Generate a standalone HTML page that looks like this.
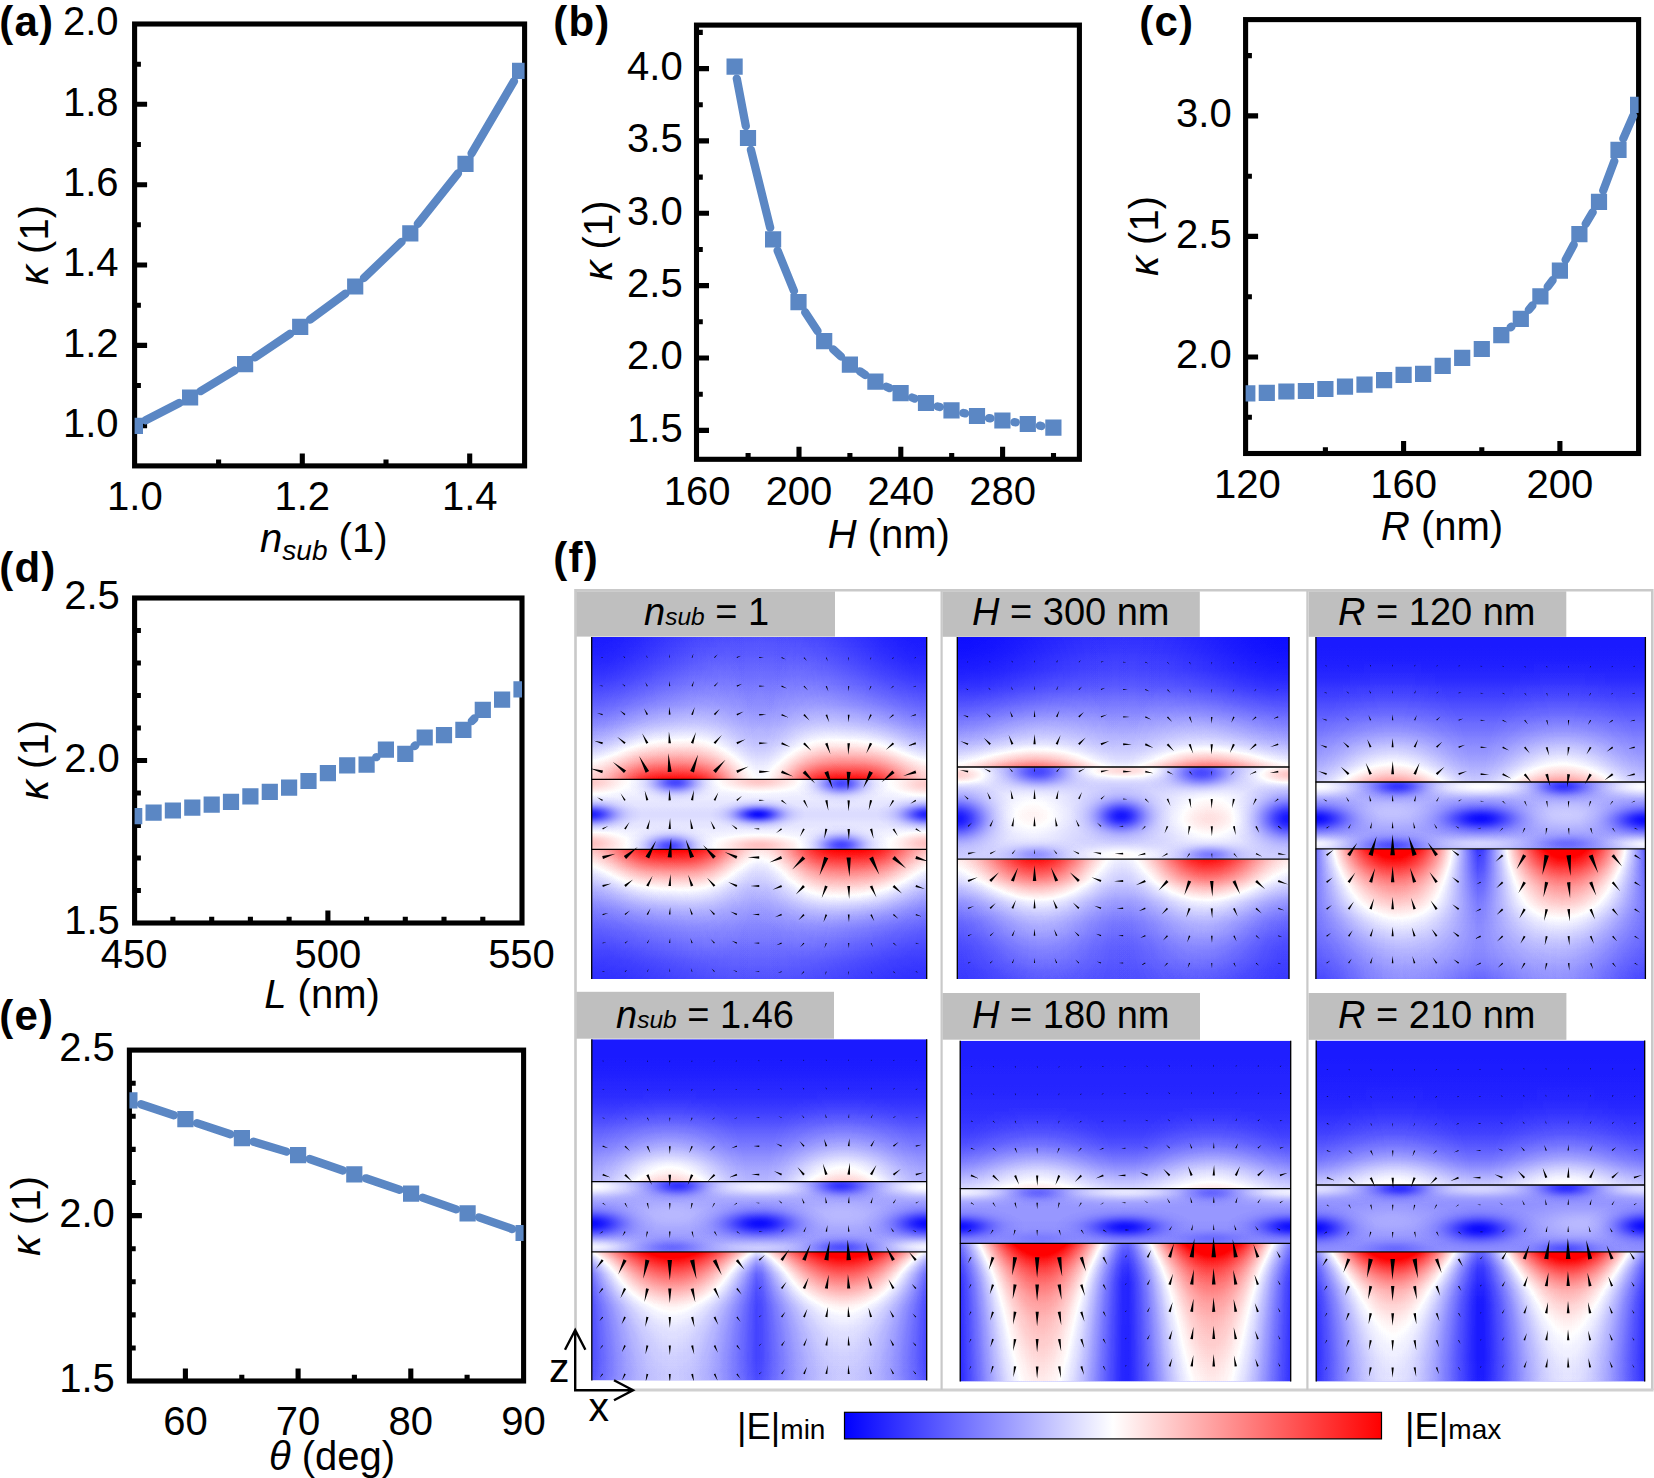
<!DOCTYPE html>
<html><head><meta charset="utf-8"><title>Figure</title>
<style>html,body{margin:0;padding:0;background:#fff}svg{display:block}text{font-family:"Liberation Sans",sans-serif;fill:#000}.w stop{stop-color:#fff}.k stop{stop-color:#000}.i{font-style:italic}.b{font-weight:bold}</style>
</head><body>
<svg width="1654" height="1478" viewBox="0 0 1654 1478">
<rect width="1654" height="1478" fill="#fff"/>
<clipPath id="ca"><rect x="134.6" y="24.0" width="390.0" height="441.9"/></clipPath>
<rect x="134.6" y="24.0" width="390.0" height="441.9" fill="none" stroke="#000" stroke-width="5.1"/>
<path d="M134.6 104.3h12.5M134.6 184.7h12.5M134.6 265.0h12.5M134.6 345.4h12.5M134.6 425.7h12.5M134.6 64.2h6.3M134.6 144.5h6.3M134.6 224.8h6.3M134.6 305.2h6.3M134.6 385.5h6.3" stroke="#000" stroke-width="5.1" fill="none"/>
<path d="M302.3 465.9v-12.5M469.7 465.9v-12.5M218.6 465.9v-6.3M386.0 465.9v-6.3" stroke="#000" stroke-width="5.1" fill="none"/>
<g clip-path="url(#ca)">
<path d="M145.7 420.3L179.3 403.0M200.5 391.2L234.7 370.5M255.1 357.4L290.2 333.7M310.0 319.7L345.4 293.7M363.9 278.1L401.6 241.8M417.8 223.9L458.0 173.3M471.6 153.4L514.0 81.2" stroke="#5b87c4" stroke-width="8.3" stroke-linecap="round" fill="none"/>
<path d="M126.8 417.7h16.2v16.2h-16.2zM182.0 389.4h16.2v16.2h-16.2zM237.0 356.1h16.2v16.2h-16.2zM292.1 318.8h16.2v16.2h-16.2zM347.1 278.4h16.2v16.2h-16.2zM402.2 225.3h16.2v16.2h-16.2zM457.4 155.7h16.2v16.2h-16.2zM512.0 62.7h16.2v16.2h-16.2z" fill="#5b87c4"/>
</g>
<text x="118.6" y="35.3" font-size="40" text-anchor="end" >2.0</text>
<text x="118.6" y="115.6" font-size="40" text-anchor="end" >1.8</text>
<text x="118.6" y="196.0" font-size="40" text-anchor="end" >1.6</text>
<text x="118.6" y="276.3" font-size="40" text-anchor="end" >1.4</text>
<text x="118.6" y="356.7" font-size="40" text-anchor="end" >1.2</text>
<text x="118.6" y="437.0" font-size="40" text-anchor="end" >1.0</text>
<text x="134.9" y="510.3" font-size="40" text-anchor="middle" >1.0</text>
<text x="302.3" y="510.3" font-size="40" text-anchor="middle" >1.2</text>
<text x="469.7" y="510.3" font-size="40" text-anchor="middle" >1.4</text>
<text x="323.8" y="551.8" font-size="40" text-anchor="middle" ><tspan class="i">n</tspan><tspan class="i" font-size="28" dy="8">sub</tspan><tspan dy="-8"> (1)</tspan></text>
<text transform="translate(48.2 245.0) rotate(-90)" font-size="40" text-anchor="middle"><tspan class="i">κ</tspan> (1)</text>
<text x="-0.8" y="35.7" font-size="42" text-anchor="start" class="b" letter-spacing="1.2">(a)</text>
<clipPath id="cb"><rect x="696.5" y="25.1" width="382.9" height="434.2"/></clipPath>
<rect x="696.5" y="25.1" width="382.9" height="434.2" fill="none" stroke="#000" stroke-width="5.1"/>
<path d="M696.5 68.6h12.5M696.5 140.9h12.5M696.5 213.3h12.5M696.5 285.6h12.5M696.5 358.0h12.5M696.5 430.4h12.5M696.5 32.4h6.3M696.5 104.8h6.3M696.5 177.1h6.3M696.5 249.5h6.3M696.5 321.8h6.3M696.5 394.2h6.3" stroke="#000" stroke-width="5.1" fill="none"/>
<path d="M799.0 459.3v-12.5M900.8 459.3v-12.5M1002.6 459.3v-12.5M748.1 459.3v-6.3M849.9 459.3v-6.3M951.7 459.3v-6.3M1053.5 459.3v-6.3" stroke="#000" stroke-width="5.1" fill="none"/>
<g clip-path="url(#cb)">
<path d="M736.8 78.6L745.8 126.1M750.9 149.7L770.2 227.7M777.6 250.6L794.0 291.0M805.2 312.3L817.5 331.1M833.1 349.3L841.0 356.5M859.9 371.3L865.4 375.0M886.4 386.7L889.6 388.1M911.9 397.5L914.7 398.6M937.6 406.4L939.9 407.0M963.3 413.0L965.2 413.4M988.9 418.1L990.5 418.4M1014.4 422.2L1015.8 422.3M1039.8 425.7L1041.4 426.0" stroke="#5b87c4" stroke-width="8.3" stroke-linecap="round" fill="none"/>
<path d="M726.5 58.6h16.2v16.2h-16.2zM739.9 129.9h16.2v16.2h-16.2zM765.0 231.3h16.2v16.2h-16.2zM790.4 294.1h16.2v16.2h-16.2zM816.1 333.1h16.2v16.2h-16.2zM841.8 356.5h16.2v16.2h-16.2zM867.3 373.6h16.2v16.2h-16.2zM892.5 385.0h16.2v16.2h-16.2zM917.9 394.9h16.2v16.2h-16.2zM943.4 402.3h16.2v16.2h-16.2zM968.9 407.9h16.2v16.2h-16.2zM994.3 412.4h16.2v16.2h-16.2zM1019.7 415.9h16.2v16.2h-16.2zM1045.3 419.6h16.2v16.2h-16.2z" fill="#5b87c4"/>
</g>
<text x="682.7" y="79.9" font-size="40" text-anchor="end" >4.0</text>
<text x="682.7" y="152.2" font-size="40" text-anchor="end" >3.5</text>
<text x="682.7" y="224.6" font-size="40" text-anchor="end" >3.0</text>
<text x="682.7" y="296.9" font-size="40" text-anchor="end" >2.5</text>
<text x="682.7" y="369.3" font-size="40" text-anchor="end" >2.0</text>
<text x="682.7" y="441.7" font-size="40" text-anchor="end" >1.5</text>
<text x="697.2" y="504.5" font-size="40" text-anchor="middle" >160</text>
<text x="799.0" y="504.5" font-size="40" text-anchor="middle" >200</text>
<text x="900.8" y="504.5" font-size="40" text-anchor="middle" >240</text>
<text x="1002.6" y="504.5" font-size="40" text-anchor="middle" >280</text>
<text x="888.8" y="548.2" font-size="40" text-anchor="middle" ><tspan class="i">H</tspan> (nm)</text>
<text transform="translate(612.0 240.5) rotate(-90)" font-size="40" text-anchor="middle"><tspan class="i">κ</tspan> (1)</text>
<text x="553.3" y="35.8" font-size="42" text-anchor="start" class="b" letter-spacing="1.2">(b)</text>
<clipPath id="cc"><rect x="1245.6" y="19.6" width="393.0" height="433.9"/></clipPath>
<rect x="1245.6" y="19.6" width="393.0" height="433.9" fill="none" stroke="#000" stroke-width="5.1"/>
<path d="M1245.6 115.9h12.5M1245.6 236.4h12.5M1245.6 357.0h12.5M1245.6 55.6h6.3M1245.6 176.2h6.3M1245.6 296.7h6.3M1245.6 417.3h6.3" stroke="#000" stroke-width="5.1" fill="none"/>
<path d="M1403.6 453.5v-12.5M1559.9 453.5v-12.5M1325.4 453.5v-6.3M1481.8 453.5v-6.3" stroke="#000" stroke-width="5.1" fill="none"/>
<g clip-path="url(#cc)">
<path d="M1510.6 327.4L1511.5 326.6M1528.8 309.8L1532.4 305.5M1547.7 286.8L1552.6 280.2M1565.6 259.9L1573.7 244.8M1585.7 223.8L1592.7 212.2M1603.2 190.6L1614.3 161.1M1623.3 138.7L1633.2 115.9" stroke="#5b87c4" stroke-width="8.3" stroke-linecap="round" fill="none"/>
<path d="M1239.2 385.2h16.2v16.2h-16.2zM1258.7 384.7h16.2v16.2h-16.2zM1278.3 383.4h16.2v16.2h-16.2zM1297.8 382.9h16.2v16.2h-16.2zM1317.3 380.9h16.2v16.2h-16.2zM1336.9 378.5h16.2v16.2h-16.2zM1356.4 376.5h16.2v16.2h-16.2zM1376.0 372.1h16.2v16.2h-16.2zM1395.5 366.8h16.2v16.2h-16.2zM1415.0 365.7h16.2v16.2h-16.2zM1434.6 357.8h16.2v16.2h-16.2zM1454.1 349.8h16.2v16.2h-16.2zM1473.7 340.9h16.2v16.2h-16.2zM1493.2 327.0h16.2v16.2h-16.2zM1512.7 310.8h16.2v16.2h-16.2zM1532.3 288.3h16.2v16.2h-16.2zM1551.8 262.5h16.2v16.2h-16.2zM1571.3 226.0h16.2v16.2h-16.2zM1590.9 193.8h16.2v16.2h-16.2zM1610.4 141.7h16.2v16.2h-16.2zM1630.0 96.7h16.2v16.2h-16.2z" fill="#5b87c4"/>
</g>
<text x="1231.7" y="127.2" font-size="40" text-anchor="end" >3.0</text>
<text x="1231.7" y="247.8" font-size="40" text-anchor="end" >2.5</text>
<text x="1231.7" y="368.3" font-size="40" text-anchor="end" >2.0</text>
<text x="1247.3" y="498.0" font-size="40" text-anchor="middle" >120</text>
<text x="1403.6" y="498.0" font-size="40" text-anchor="middle" >160</text>
<text x="1559.9" y="498.0" font-size="40" text-anchor="middle" >200</text>
<text x="1442.0" y="540.0" font-size="40" text-anchor="middle" ><tspan class="i">R</tspan> (nm)</text>
<text transform="translate(1158.0 236.0) rotate(-90)" font-size="40" text-anchor="middle"><tspan class="i">κ</tspan> (1)</text>
<text x="1139.3" y="36.0" font-size="42" text-anchor="start" class="b" letter-spacing="1.2">(c)</text>
<clipPath id="cd"><rect x="134.6" y="598.0" width="387.4" height="325.0"/></clipPath>
<rect x="134.6" y="598.0" width="387.4" height="325.0" fill="none" stroke="#000" stroke-width="5.1"/>
<path d="M134.6 760.5h12.5M134.6 630.5h6.3M134.6 663.0h6.3M134.6 695.5h6.3M134.6 728.0h6.3M134.6 793.0h6.3M134.6 825.5h6.3M134.6 858.0h6.3M134.6 890.5h6.3" stroke="#000" stroke-width="5.1" fill="none"/>
<path d="M327.9 923.0v-12.5M172.9 923.0v-6.3M211.7 923.0v-6.3M250.4 923.0v-6.3M289.1 923.0v-6.3M366.6 923.0v-6.3M405.3 923.0v-6.3M444.0 923.0v-6.3M482.8 923.0v-6.3" stroke="#000" stroke-width="5.1" fill="none"/>
<g clip-path="url(#cd)">
<path d="M376.2 757.2L376.4 757.1M414.5 746.1L415.4 745.3M471.8 721.1L474.4 718.5" stroke="#5b87c4" stroke-width="8.3" stroke-linecap="round" fill="none"/>
<path d="M126.1 808.0h16.2v16.2h-16.2zM145.5 804.5h16.2v16.2h-16.2zM164.8 802.4h16.2v16.2h-16.2zM184.2 799.6h16.2v16.2h-16.2zM203.6 796.5h16.2v16.2h-16.2zM222.9 793.7h16.2v16.2h-16.2zM242.3 788.2h16.2v16.2h-16.2zM261.7 783.7h16.2v16.2h-16.2zM281.0 779.6h16.2v16.2h-16.2zM300.4 772.9h16.2v16.2h-16.2zM319.8 765.0h16.2v16.2h-16.2zM339.1 757.2h16.2v16.2h-16.2zM358.5 756.5h16.2v16.2h-16.2zM377.8 741.6h16.2v16.2h-16.2zM397.2 745.8h16.2v16.2h-16.2zM416.6 729.4h16.2v16.2h-16.2zM435.9 727.0h16.2v16.2h-16.2zM455.3 721.7h16.2v16.2h-16.2zM474.7 701.7h16.2v16.2h-16.2zM494.0 691.5h16.2v16.2h-16.2zM513.4 681.2h16.2v16.2h-16.2z" fill="#5b87c4"/>
</g>
<text x="119.8" y="609.3" font-size="40" text-anchor="end" >2.5</text>
<text x="119.8" y="771.8" font-size="40" text-anchor="end" >2.0</text>
<text x="119.8" y="934.3" font-size="40" text-anchor="end" >1.5</text>
<text x="134.2" y="968.0" font-size="40" text-anchor="middle" >450</text>
<text x="327.9" y="968.0" font-size="40" text-anchor="middle" >500</text>
<text x="521.5" y="968.0" font-size="40" text-anchor="middle" >550</text>
<text x="322.0" y="1008.0" font-size="40" text-anchor="middle" ><tspan class="i">L</tspan> (nm)</text>
<text transform="translate(48.0 760.0) rotate(-90)" font-size="40" text-anchor="middle"><tspan class="i">κ</tspan> (1)</text>
<text x="-0.8" y="582.4" font-size="42" text-anchor="start" class="b" letter-spacing="1.2">(d)</text>
<clipPath id="ce"><rect x="129.4" y="1050.1" width="394.2" height="330.9"/></clipPath>
<rect x="129.4" y="1050.1" width="394.2" height="330.9" fill="none" stroke="#000" stroke-width="5.1"/>
<path d="M129.4 1215.6h12.5M129.4 1083.2h6.3M129.4 1116.3h6.3M129.4 1149.4h6.3M129.4 1182.5h6.3M129.4 1248.7h6.3M129.4 1281.8h6.3M129.4 1314.9h6.3M129.4 1348.0h6.3" stroke="#000" stroke-width="5.1" fill="none"/>
<path d="M185.4 1381.0v-12.5M298.1 1381.0v-12.5M410.8 1381.0v-12.5M241.8 1381.0v-6.3M354.4 1381.0v-6.3M467.1 1381.0v-6.3" stroke="#000" stroke-width="5.1" fill="none"/>
<g clip-path="url(#ce)">
<path d="M140.9 1104.2L173.9 1115.3M196.9 1123.1L230.4 1134.3M253.5 1141.7L286.5 1151.6M309.5 1159.0L342.9 1170.5M365.8 1178.3L399.6 1189.8M422.5 1197.7L456.2 1209.3M479.0 1217.3L512.2 1229.0" stroke="#5b87c4" stroke-width="8.3" stroke-linecap="round" fill="none"/>
<path d="M121.3 1092.2h16.2v16.2h-16.2zM177.3 1111.1h16.2v16.2h-16.2zM233.8 1130.1h16.2v16.2h-16.2zM290.0 1147.0h16.2v16.2h-16.2zM346.2 1166.3h16.2v16.2h-16.2zM403.0 1185.6h16.2v16.2h-16.2zM459.5 1205.2h16.2v16.2h-16.2zM515.5 1224.9h16.2v16.2h-16.2z" fill="#5b87c4"/>
</g>
<text x="114.8" y="1061.4" font-size="40" text-anchor="end" >2.5</text>
<text x="114.8" y="1226.9" font-size="40" text-anchor="end" >2.0</text>
<text x="114.8" y="1392.3" font-size="40" text-anchor="end" >1.5</text>
<text x="185.4" y="1435.0" font-size="40" text-anchor="middle" >60</text>
<text x="298.1" y="1435.0" font-size="40" text-anchor="middle" >70</text>
<text x="410.8" y="1435.0" font-size="40" text-anchor="middle" >80</text>
<text x="523.5" y="1435.0" font-size="40" text-anchor="middle" >90</text>
<text x="332.0" y="1470.0" font-size="40" text-anchor="middle" ><tspan class="i">θ</tspan> (deg)</text>
<text transform="translate(40.0 1216.0) rotate(-90)" font-size="40" text-anchor="middle"><tspan class="i">κ</tspan> (1)</text>
<text x="-0.8" y="1030.1" font-size="42" text-anchor="start" class="b" letter-spacing="1.2">(e)</text>
<text x="553.3" y="571.8" font-size="42" text-anchor="start" class="b" letter-spacing="1.2">(f)</text>
<defs><radialGradient id="gW" class="w"><stop offset="0" stop-opacity="1"/><stop offset=".083" stop-opacity=".969"/><stop offset=".167" stop-opacity=".882"/><stop offset=".25" stop-opacity=".755"/><stop offset=".333" stop-opacity=".607"/><stop offset=".417" stop-opacity=".458"/><stop offset=".5" stop-opacity=".325"/><stop offset=".583" stop-opacity=".216"/><stop offset=".667" stop-opacity=".135"/><stop offset=".75" stop-opacity=".08"/><stop offset=".833" stop-opacity=".044"/><stop offset=".917" stop-opacity=".023"/><stop offset="1" stop-opacity="0"/></radialGradient>
<radialGradient id="gK" class="k"><stop offset="0" stop-opacity="1"/><stop offset=".083" stop-opacity=".969"/><stop offset=".167" stop-opacity=".882"/><stop offset=".25" stop-opacity=".755"/><stop offset=".333" stop-opacity=".607"/><stop offset=".417" stop-opacity=".458"/><stop offset=".5" stop-opacity=".325"/><stop offset=".583" stop-opacity=".216"/><stop offset=".667" stop-opacity=".135"/><stop offset=".75" stop-opacity=".08"/><stop offset=".833" stop-opacity=".044"/><stop offset=".917" stop-opacity=".023"/><stop offset="1" stop-opacity="0"/></radialGradient>
<filter id="bwr" x="0" y="0" width="1" height="1" color-interpolation-filters="sRGB"><feComponentTransfer><feFuncR type="table" tableValues="0 .2 .4 .6 .8 1 1 1 1 1 1 1 1"/><feFuncG type="table" tableValues="0 .2 .4 .6 .8 1 .8 .6 .4 .2 0 0 0"/><feFuncB type="table" tableValues="1 1 1 1 1 1 .8 .6 .4 .2 0 0 0"/></feComponentTransfer></filter></defs>
<path d="M575.5 1330V590.3H1652.3V1390" fill="none" stroke="#c9c9c9" stroke-width="2.6"/>
<path d="M632 1390H1653.6" fill="none" stroke="#d0d0d0" stroke-width="3.2"/>
<path d="M941.6 590V1390M1307.4 590V1390" fill="none" stroke="#c9c9c9" stroke-width="2.2"/>
<rect x="576.4" y="591.4" width="258.6" height="45.2" fill="#bfbfbf"/>
<text x="644.0" y="624.8" font-size="38" text-anchor="start" ><tspan class="i">n</tspan><tspan class="i" font-size="24.5">sub</tspan> = 1</text>
<g filter="url(#bwr)">
<clipPath id="cp1t"><rect x="591.4" y="637" width="335.6" height="142.4"/></clipPath>
<linearGradient id="bp1t" gradientUnits="userSpaceOnUse" x1="0" y1="637" x2="0" y2="779.4"><stop offset="0" stop-color="#242424"/><stop offset=".059" stop-color="#272727"/><stop offset=".118" stop-color="#292929"/><stop offset=".176" stop-color="#2c2c2c"/><stop offset=".235" stop-color="#2f2f2f"/><stop offset=".294" stop-color="#323232"/><stop offset=".353" stop-color="#363636"/><stop offset=".412" stop-color="#3a3a3a"/><stop offset=".471" stop-color="#3d3d3d"/><stop offset=".529" stop-color="#414141"/><stop offset=".588" stop-color="#454545"/><stop offset=".647" stop-color="#4a4a4a"/><stop offset=".706" stop-color="#4e4e4e"/><stop offset=".765" stop-color="#535353"/><stop offset=".824" stop-color="#595959"/><stop offset=".882" stop-color="#606060"/><stop offset=".941" stop-color="#666666"/><stop offset="1" stop-color="#6a6a6a"/></linearGradient>
<linearGradient id="ap1t" class="w" gradientUnits="userSpaceOnUse" x1="0" y1="637" x2="0" y2="779.4"><stop offset="0" stop-opacity=".01"/><stop offset=".059" stop-opacity=".013"/><stop offset=".118" stop-opacity=".018"/><stop offset=".176" stop-opacity=".023"/><stop offset=".235" stop-opacity=".03"/><stop offset=".294" stop-opacity=".036"/><stop offset=".353" stop-opacity=".043"/><stop offset=".412" stop-opacity=".05"/><stop offset=".471" stop-opacity=".064"/><stop offset=".529" stop-opacity=".085"/><stop offset=".588" stop-opacity=".102"/><stop offset=".647" stop-opacity=".127"/><stop offset=".706" stop-opacity=".174"/><stop offset=".765" stop-opacity=".228"/><stop offset=".824" stop-opacity=".301"/><stop offset=".882" stop-opacity=".394"/><stop offset=".941" stop-opacity=".54"/><stop offset="1" stop-opacity=".714"/></linearGradient>
<mask id="mp1t" maskUnits="userSpaceOnUse" x="591.4" y="637" width="335.6" height="142.4"><rect x="591.4" y="637" width="335.6" height="142.4" fill="url(#ap1t)"/></mask>
<linearGradient id="wp1t" class="w" gradientUnits="userSpaceOnUse" x1="591.4" y1="0" x2="927" y2="0"><stop offset="0" stop-opacity=".009"/><stop offset=".018" stop-opacity=".051"/><stop offset=".036" stop-opacity=".127"/><stop offset=".055" stop-opacity=".228"/><stop offset=".073" stop-opacity=".346"/><stop offset=".091" stop-opacity=".473"/><stop offset=".109" stop-opacity=".599"/><stop offset=".127" stop-opacity=".715"/><stop offset=".145" stop-opacity=".814"/><stop offset=".164" stop-opacity=".892"/><stop offset=".182" stop-opacity=".947"/><stop offset=".2" stop-opacity=".98"/><stop offset=".218" stop-opacity=".996"/><stop offset=".236" stop-opacity="1"/><stop offset=".255" stop-opacity="1"/><stop offset=".273" stop-opacity=".995"/><stop offset=".291" stop-opacity=".979"/><stop offset=".309" stop-opacity=".945"/><stop offset=".327" stop-opacity=".889"/><stop offset=".345" stop-opacity=".81"/><stop offset=".364" stop-opacity=".71"/><stop offset=".382" stop-opacity=".593"/><stop offset=".4" stop-opacity=".467"/><stop offset=".418" stop-opacity=".34"/><stop offset=".436" stop-opacity=".222"/><stop offset=".455" stop-opacity=".122"/><stop offset=".473" stop-opacity=".049"/><stop offset=".491" stop-opacity=".007"/><stop offset=".509" stop-opacity=".002"/><stop offset=".527" stop-opacity=".034"/><stop offset=".545" stop-opacity=".099"/><stop offset=".564" stop-opacity=".192"/><stop offset=".582" stop-opacity=".306"/><stop offset=".6" stop-opacity=".432"/><stop offset=".618" stop-opacity=".559"/><stop offset=".636" stop-opacity=".679"/><stop offset=".655" stop-opacity=".784"/><stop offset=".673" stop-opacity=".869"/><stop offset=".691" stop-opacity=".932"/><stop offset=".709" stop-opacity=".971"/><stop offset=".727" stop-opacity=".992"/><stop offset=".745" stop-opacity=".999"/><stop offset=".764" stop-opacity="1"/><stop offset=".782" stop-opacity=".998"/><stop offset=".8" stop-opacity=".986"/><stop offset=".818" stop-opacity=".958"/><stop offset=".836" stop-opacity=".909"/><stop offset=".855" stop-opacity=".838"/><stop offset=".873" stop-opacity=".744"/><stop offset=".891" stop-opacity=".632"/><stop offset=".909" stop-opacity=".508"/><stop offset=".927" stop-opacity=".381"/><stop offset=".945" stop-opacity=".259"/><stop offset=".964" stop-opacity=".152"/><stop offset=".982" stop-opacity=".069"/><stop offset="1" stop-opacity=".017"/></linearGradient>
<g clip-path="url(#cp1t)">
<rect x="591.4" y="637" width="335.6" height="142.4" fill="url(#bp1t)"/>
<rect x="591.4" y="637" width="335.6" height="142.4" fill="url(#wp1t)" mask="url(#mp1t)"/>
<ellipse cx="591.4" cy="779.4" rx="114" ry="66" fill="url(#gW)" opacity=".15"/>
<ellipse cx="927" cy="779.4" rx="114" ry="66" fill="url(#gW)" opacity=".15"/>
<ellipse cx="591.4" cy="637" rx="210" ry="165" fill="url(#gK)" opacity=".7"/>
<ellipse cx="927" cy="637" rx="210" ry="165" fill="url(#gK)" opacity=".7"/>
</g>
<clipPath id="cp1s"><rect x="591.4" y="779.4" width="335.6" height="69.9"/></clipPath>
<linearGradient id="bp1s" gradientUnits="userSpaceOnUse" x1="0" y1="779.4" x2="0" y2="849.3"><stop offset="0" stop-color="#666666"/><stop offset=".048" stop-color="#666666"/><stop offset=".095" stop-color="#656565"/><stop offset=".143" stop-color="#656565"/><stop offset=".19" stop-color="#646464"/><stop offset=".238" stop-color="#636363"/><stop offset=".286" stop-color="#626262"/><stop offset=".333" stop-color="#606060"/><stop offset=".381" stop-color="#5f5f5f"/><stop offset=".429" stop-color="#5d5d5d"/><stop offset=".476" stop-color="#5c5c5c"/><stop offset=".524" stop-color="#5c5c5c"/><stop offset=".571" stop-color="#5d5d5d"/><stop offset=".619" stop-color="#5f5f5f"/><stop offset=".667" stop-color="#606060"/><stop offset=".714" stop-color="#626262"/><stop offset=".762" stop-color="#636363"/><stop offset=".81" stop-color="#646464"/><stop offset=".857" stop-color="#656565"/><stop offset=".905" stop-color="#656565"/><stop offset=".952" stop-color="#666666"/><stop offset="1" stop-color="#666666"/></linearGradient>
<g clip-path="url(#cp1s)">
<rect x="591.4" y="779.4" width="335.6" height="69.9" fill="url(#bp1s)"/>
<ellipse cx="759.2" cy="781.4" rx="72" ry="18" fill="url(#gW)" opacity=".18"/>
<ellipse cx="591.4" cy="782.4" rx="60" ry="21" fill="url(#gW)" opacity=".17"/>
<ellipse cx="927" cy="784.4" rx="60" ry="21" fill="url(#gW)" opacity=".17"/>
<ellipse cx="759.2" cy="845.3" rx="72" ry="18" fill="url(#gW)" opacity=".2"/>
<ellipse cx="591.4" cy="843.3" rx="60" ry="21" fill="url(#gW)" opacity=".2"/>
<ellipse cx="927" cy="843.3" rx="60" ry="21" fill="url(#gW)" opacity=".2"/>
<ellipse cx="675.3" cy="782.4" rx="48" ry="21" fill="url(#gK)" opacity=".72"/>
<ellipse cx="841.4" cy="783.4" rx="48" ry="21" fill="url(#gK)" opacity=".72"/>
<ellipse cx="670.3" cy="846.3" rx="48" ry="21" fill="url(#gK)" opacity=".72"/>
<ellipse cx="841.4" cy="845.3" rx="48" ry="21" fill="url(#gK)" opacity=".72"/>
<ellipse cx="758.2" cy="814.4" rx="48" ry="16.5" fill="url(#gK)" opacity=".95"/>
<ellipse cx="591.4" cy="814.4" rx="51" ry="19.5" fill="url(#gK)" opacity=".85"/>
<ellipse cx="927" cy="814.4" rx="51" ry="19.5" fill="url(#gK)" opacity=".85"/>
</g>
<clipPath id="cp1b"><rect x="591.4" y="849.3" width="335.6" height="129.7"/></clipPath>
<linearGradient id="bp1b" gradientUnits="userSpaceOnUse" x1="0" y1="849.3" x2="0" y2="979"><stop offset="0" stop-color="#777777"/><stop offset=".059" stop-color="#6c6c6c"/><stop offset=".118" stop-color="#626262"/><stop offset=".176" stop-color="#5a5a5a"/><stop offset=".235" stop-color="#545454"/><stop offset=".294" stop-color="#4e4e4e"/><stop offset=".353" stop-color="#4a4a4a"/><stop offset=".412" stop-color="#454545"/><stop offset=".471" stop-color="#414141"/><stop offset=".529" stop-color="#3e3e3e"/><stop offset=".588" stop-color="#3a3a3a"/><stop offset=".647" stop-color="#373737"/><stop offset=".706" stop-color="#343434"/><stop offset=".765" stop-color="#303030"/><stop offset=".824" stop-color="#2d2d2d"/><stop offset=".882" stop-color="#2a2a2a"/><stop offset=".941" stop-color="#272727"/><stop offset="1" stop-color="#242424"/></linearGradient>
<linearGradient id="ap1b" class="w" gradientUnits="userSpaceOnUse" x1="0" y1="849.3" x2="0" y2="979"><stop offset="0" stop-opacity=".719"/><stop offset=".059" stop-opacity=".62"/><stop offset=".118" stop-opacity=".495"/><stop offset=".176" stop-opacity=".382"/><stop offset=".235" stop-opacity=".29"/><stop offset=".294" stop-opacity=".218"/><stop offset=".353" stop-opacity=".164"/><stop offset=".412" stop-opacity=".124"/><stop offset=".471" stop-opacity=".089"/><stop offset=".529" stop-opacity=".063"/><stop offset=".588" stop-opacity=".043"/><stop offset=".647" stop-opacity=".032"/><stop offset=".706" stop-opacity=".027"/><stop offset=".765" stop-opacity=".021"/><stop offset=".824" stop-opacity=".012"/><stop offset=".882" stop-opacity=".005"/><stop offset=".941" stop-opacity=".002"/><stop offset="1" stop-opacity="0"/></linearGradient>
<mask id="mp1b" maskUnits="userSpaceOnUse" x="591.4" y="849.3" width="335.6" height="129.7"><rect x="591.4" y="849.3" width="335.6" height="129.7" fill="url(#ap1b)"/></mask>
<linearGradient id="wp1b" class="w" gradientUnits="userSpaceOnUse" x1="591.4" y1="0" x2="927" y2="0"><stop offset="0" stop-opacity=".035"/><stop offset=".018" stop-opacity=".099"/><stop offset=".036" stop-opacity=".189"/><stop offset=".055" stop-opacity=".3"/><stop offset=".073" stop-opacity=".421"/><stop offset=".091" stop-opacity=".545"/><stop offset=".109" stop-opacity=".663"/><stop offset=".127" stop-opacity=".768"/><stop offset=".145" stop-opacity=".855"/><stop offset=".164" stop-opacity=".92"/><stop offset=".182" stop-opacity=".964"/><stop offset=".2" stop-opacity=".988"/><stop offset=".218" stop-opacity=".998"/><stop offset=".236" stop-opacity="1"/><stop offset=".255" stop-opacity=".999"/><stop offset=".273" stop-opacity=".992"/><stop offset=".291" stop-opacity=".972"/><stop offset=".309" stop-opacity=".933"/><stop offset=".327" stop-opacity=".874"/><stop offset=".345" stop-opacity=".792"/><stop offset=".364" stop-opacity=".692"/><stop offset=".382" stop-opacity=".577"/><stop offset=".4" stop-opacity=".453"/><stop offset=".418" stop-opacity=".33"/><stop offset=".436" stop-opacity=".216"/><stop offset=".455" stop-opacity=".12"/><stop offset=".473" stop-opacity=".049"/><stop offset=".491" stop-opacity=".008"/><stop offset=".509" stop-opacity=".002"/><stop offset=".527" stop-opacity=".03"/><stop offset=".545" stop-opacity=".09"/><stop offset=".564" stop-opacity=".178"/><stop offset=".582" stop-opacity=".287"/><stop offset=".6" stop-opacity=".407"/><stop offset=".618" stop-opacity=".532"/><stop offset=".636" stop-opacity=".651"/><stop offset=".655" stop-opacity=".757"/><stop offset=".673" stop-opacity=".846"/><stop offset=".691" stop-opacity=".914"/><stop offset=".709" stop-opacity=".96"/><stop offset=".727" stop-opacity=".986"/><stop offset=".745" stop-opacity=".998"/><stop offset=".764" stop-opacity="1"/><stop offset=".782" stop-opacity=".999"/><stop offset=".8" stop-opacity=".993"/><stop offset=".818" stop-opacity=".975"/><stop offset=".836" stop-opacity=".939"/><stop offset=".855" stop-opacity=".881"/><stop offset=".873" stop-opacity=".803"/><stop offset=".891" stop-opacity=".704"/><stop offset=".909" stop-opacity=".59"/><stop offset=".927" stop-opacity=".467"/><stop offset=".945" stop-opacity=".344"/><stop offset=".964" stop-opacity=".228"/><stop offset=".982" stop-opacity=".129"/><stop offset="1" stop-opacity=".055"/></linearGradient>
<g clip-path="url(#cp1b)">
<rect x="591.4" y="849.3" width="335.6" height="129.7" fill="url(#bp1b)"/>
<rect x="591.4" y="849.3" width="335.6" height="129.7" fill="url(#wp1b)" mask="url(#mp1b)"/>
<ellipse cx="591.4" cy="849.3" rx="114" ry="78" fill="url(#gW)" opacity=".1"/>
<ellipse cx="927" cy="849.3" rx="114" ry="78" fill="url(#gW)" opacity=".1"/>
<ellipse cx="849.1" cy="883.3" rx="135" ry="60" fill="url(#gW)" opacity=".1"/>
<ellipse cx="591.4" cy="979" rx="210" ry="165" fill="url(#gK)" opacity=".45"/>
<ellipse cx="927" cy="979" rx="210" ry="165" fill="url(#gK)" opacity=".45"/>
</g>
</g>
<clipPath id="kp1"><rect x="591.4" y="637" width="335.6" height="342.0"/></clipPath>
<path clip-path="url(#kp1)" d="M602.7 657.2L600.7 657.1L602.5 658zM625.2 657.3L623.1 656.1L624.7 657.9zM647.7 657.4L646 654.9L647 657.8zM670.1 657.6L669.4 654L669.3 657.6zM692.5 657.8L693.5 653.6L691.6 657.4zM714.8 657.9L717.6 654.2L714.1 657.3zM737 658.1L741.1 655.7L736.6 657.1zM759.2 658.1L763.8 657.5L759.2 657.1zM781.4 658.1L785.8 659.4L781.8 657.1zM803.6 658L807.1 660.9L804.3 657.2zM825.9 657.8L827.8 661.5L826.8 657.4zM848.3 657.6L848.5 661.3L849.1 657.6zM870.7 657.4L869.8 660.3L871.4 657.8zM893.2 657.3L891.7 659.2L893.7 657.9zM915.7 657.2L913.9 658.2L915.9 658zM602.7 685.8L599.2 685.2L602.5 686.5zM625.2 685.8L621.9 683.6L624.7 686.5zM647.8 685.9L645.2 682L646.9 686.4zM670.3 686.1L669.3 680.9L669.1 686.2zM692.7 686.4L694 680.7L691.5 685.9zM714.9 686.6L718.5 681.7L714 685.7zM737.1 686.7L742.2 683.8L736.6 685.6zM759.2 686.8L764.9 686.1L759.2 685.5zM781.3 686.7L787 688.4L781.8 685.6zM803.5 686.6L808.1 690.4L804.4 685.7zM825.7 686.4L828.4 691.6L826.9 685.9zM848.1 686.1L848.5 691.4L849.3 686.2zM870.6 685.9L869 690.4L871.5 686.4zM893.2 685.8L890.4 688.8L893.7 686.5zM915.7 685.8L912.5 687.2L915.9 686.5zM602.8 714.1L597 713.1L602.4 715.3zM625.4 714.1L619.9 710.6L624.5 715.3zM648.1 714.3L644 708.2L646.6 715.1zM670.6 714.6L669.1 706.8L668.8 714.8zM692.9 715L694.8 706.9L691.2 714.4zM715.1 715.3L719.9 708.7L713.8 714.1zM737.2 715.5L743.7 711.6L736.5 713.9zM759.2 715.5L766.3 714.6L759.2 713.9zM781.3 715.5L788.5 717.6L781.9 713.9zM803.3 715.3L809.6 720.5L804.6 714.1zM825.5 715L829.3 722.4L827.2 714.4zM847.8 714.7L848.4 722.6L849.6 714.7zM870.3 714.3L867.9 721.3L871.8 715.1zM893 714.2L888.5 719L893.9 715.2zM915.6 714.1L910.3 716.5L916 715.3zM602.9 742.3L594.1 740.8L602.3 744.2zM625.7 742.4L617.1 736.8L624.3 744.1zM648.4 742.7L642.1 733.2L646.2 743.8zM671 743.2L668.9 731.6L668.4 743.3zM693.3 743.7L696 732.1L690.9 742.8zM715.3 744.1L721.9 735.1L713.6 742.4zM737.3 744.2L745.5 739.3L736.4 742.3zM759.2 744.2L768 743.1L759.2 742.3zM781.2 744.2L790.3 746.9L782 742.3zM803.1 744.1L811.6 751.1L804.8 742.4zM825.1 743.7L830.5 754.2L827.5 742.8zM847.4 743.2L848.2 755L850 743.3zM869.9 742.7L866.2 753.5L872.2 743.8zM892.7 742.4L885.7 750L894.2 744.1zM915.5 742.3L907.3 746L916.1 744.2zM603 770.4L589.9 768.2L602.2 773.2zM626.1 770.5L612.8 761.9L623.9 773.1zM649.1 770.9L639.1 755.9L645.6 772.7zM671.7 771.7L668.4 753.3L667.7 771.9zM694 772.5L698.1 754.5L690.2 771.1zM715.8 773L725.5 759.7L713.1 770.6zM737.4 773.1L748.5 766.5L736.2 770.5zM759.2 773L770.1 771.6L759.2 770.6zM781 773.1L793.2 776.6L782.1 770.5zM802.7 773L815.2 783.4L805.2 770.6zM824.4 772.5L832.8 788.8L828.2 771.1zM846.7 771.7L847.9 790.3L850.7 771.9zM869.3 770.9L863.3 788.1L872.9 772.7zM892.3 770.5L881.5 782.2L894.6 773.1zM915.4 770.4L903.1 775.9L916.3 773.2zM602.9 799.7L597 797.3L602.2 801zM625.7 799.9L620.5 793.3L624.2 800.8zM648.4 800.1L644.7 790.5L646.2 800.6zM670.9 800.3L669.3 789.3L668.5 800.4zM693.2 800.6L694 789.9L690.9 800.1zM715.4 800.8L718.4 792.2L713.6 799.9zM737.3 800.9L742.1 795.8L736.3 799.8zM759.2 801L765 800.2L759.2 799.7zM781.1 800.9L786.9 804.6L782 799.8zM803.1 800.8L808 808.3L804.8 799.9zM825.2 800.6L828.4 810.7L827.5 800.1zM847.5 800.3L848.5 811.4L849.9 800.4zM870 800.1L868.6 810.4L872.2 800.6zM892.6 799.9L889.1 807.6L894.2 800.8zM915.4 799.7L910.3 803.7L916.2 801zM602.9 829.5L608.2 825.9L602.3 828.3zM625.7 829.4L629.5 821.9L624.2 828.4zM648.4 829.2L650 819.2L646.3 828.6zM670.9 828.9L670.1 818L668.5 828.9zM693.2 828.7L690.2 818.5L690.9 829.1zM715.3 828.5L710.5 820.8L713.6 829.3zM737.3 828.3L731.5 824.4L736.3 829.5zM759.2 828.3L753.4 828.7L759.2 829.5zM781.1 828.3L776.2 833.1L782 829.5zM803.1 828.5L799.9 836.8L804.8 829.3zM825.2 828.7L824.2 839.1L827.4 829.1zM847.5 828.9L848.9 839.9L849.9 828.9zM870 829.2L873.6 838.8L872.2 828.6zM892.6 829.4L897.8 836.1L894.2 828.4zM915.4 829.5L921.4 832.2L916.2 828.3zM603 858.9L615.5 853.7L602.2 856zM626.1 858.9L637.7 847L623.8 856zM649.2 858.4L656 840.8L645.5 856.5zM671.8 857.6L671.1 838.1L667.6 857.3zM694.1 856.8L685.8 839.4L690.1 858.1zM715.8 856.2L703 845L713.1 858.7zM737.4 856.1L724.6 852L736.2 858.8zM759.2 856.2L747.7 857.3L759.2 858.7zM781 856.1L769.4 862.5L782.1 858.8zM802.6 856.2L792.2 869.5L805.3 858.7zM824.3 856.7L819.5 875.4L828.3 858.2zM846.5 857.5L849.5 877L850.8 857.4zM869.2 858.4L879.3 874.7L873 856.5zM892.2 858.9L906.2 868.6L894.7 856zM915.3 858.9L929.1 861.7L916.3 856zM602.9 886.9L611.2 883.5L602.3 885.1zM625.7 886.9L633 879.4L624.2 885.1zM648.5 886.6L652.6 875.7L646.2 885.4zM671 886.1L670.6 874.1L668.4 885.9zM693.3 885.6L688.2 874.7L690.8 886.4zM715.4 885.2L707 877.8L713.6 886.8zM737.3 885L728.1 882.1L736.4 887zM759.2 885L750.4 885.9L759.2 887zM781.2 885L772.5 889.7L782 887zM803 885.1L795.8 894.4L804.9 886.9zM825 885.5L821.7 898.1L827.7 886.5zM847.3 886.1L849.2 899.1L850.1 885.9zM869.8 886.6L876.5 897.4L872.3 885.4zM892.6 886.9L902 893.4L894.3 885.1zM915.5 887L924.9 888.9L916.1 885zM602.8 915.2L608.2 912.9L602.4 913.9zM625.4 915.1L630 910.4L624.5 914zM648 914.9L650.6 908.2L646.6 914.2zM670.5 914.6L670.2 907L668.9 914.5zM692.9 914.3L689.5 907.2L691.3 914.8zM715.1 914L709.3 908.9L713.8 915.1zM737.2 913.8L730.3 911.6L736.5 915.3zM759.2 913.8L752.2 914.4L759.2 915.3zM781.3 913.8L774.8 917.3L781.9 915.3zM803.3 913.9L798.4 920.2L804.6 915.2zM825.5 914.2L823.4 922.2L827.2 914.9zM847.8 914.6L849 922.5L849.6 914.5zM870.3 914.9L874.3 921.3L871.8 914.2zM892.9 915.1L898.6 919L893.9 914zM915.6 915.2L921.6 916.4L916 913.9zM602.7 943.5L606.4 942L602.5 942.7zM625.3 943.5L628.3 940.4L624.7 942.7zM647.8 943.3L649.5 938.9L646.9 942.9zM670.3 943.1L670.1 937.9L669.1 943.1zM692.7 942.9L690.3 937.9L691.5 943.3zM714.9 942.7L710.6 938.9L714 943.5zM737.1 942.5L731.7 940.8L736.6 943.7zM759.2 942.5L753.6 943L759.2 943.7zM781.3 942.5L776.4 945.2L781.8 943.7zM803.5 942.7L800 947.2L804.4 943.5zM825.8 942.9L824.3 948.3L826.9 943.3zM848.1 943.1L848.9 948.3L849.3 943.1zM870.6 943.3L873.1 947.4L871.5 942.9zM893.1 943.5L896.7 945.9L893.8 942.7zM915.7 943.5L919.6 944.3L915.9 942.7zM602.7 972L605.2 970.9L602.5 971.3zM625.2 972L627.2 969.8L624.7 971.3zM647.7 971.8L648.8 968.8L647 971.5zM670.1 971.7L670 968.1L669.3 971.6zM692.5 971.5L690.8 967.9L691.7 971.8zM714.8 971.3L711.6 968.6L714.1 972zM737 971.2L732.9 969.9L736.6 972.1zM759.2 971.2L754.8 971.6L759.2 972.1zM781.4 971.2L777.6 973.3L781.8 972.1zM803.6 971.3L801 974.7L804.3 972zM825.9 971.5L824.9 975.3L826.7 971.8zM848.3 971.7L848.8 975.2L849.1 971.6zM870.7 971.8L872.5 974.6L871.4 971.5zM893.2 972L895.6 973.6L893.7 971.3zM915.7 972L918.4 972.5L915.9 971.3z" fill="#000"/>
<path d="M591.7 637V979M926.7 637V979" fill="none" stroke="#000" stroke-width="1.3"/>
<path d="M591.4 779.4H927M591.4 849.3H927" stroke="#000" stroke-width="1.3" fill="none"/>
<rect x="942.6" y="591.4" width="257.2" height="45.4" fill="#bfbfbf"/>
<text x="972.0" y="624.8" font-size="38" text-anchor="start" ><tspan class="i">H</tspan> = 300 nm</text>
<g filter="url(#bwr)">
<clipPath id="cp2t"><rect x="957" y="637" width="332.3" height="130"/></clipPath>
<linearGradient id="bp2t" gradientUnits="userSpaceOnUse" x1="0" y1="637" x2="0" y2="767"><stop offset="0" stop-color="#171717"/><stop offset=".059" stop-color="#191919"/><stop offset=".118" stop-color="#1b1b1b"/><stop offset=".176" stop-color="#1e1e1e"/><stop offset=".235" stop-color="#202020"/><stop offset=".294" stop-color="#232323"/><stop offset=".353" stop-color="#272727"/><stop offset=".412" stop-color="#2c2c2c"/><stop offset=".471" stop-color="#323232"/><stop offset=".529" stop-color="#373737"/><stop offset=".588" stop-color="#3c3c3c"/><stop offset=".647" stop-color="#424242"/><stop offset=".706" stop-color="#474747"/><stop offset=".765" stop-color="#4c4c4c"/><stop offset=".824" stop-color="#515151"/><stop offset=".882" stop-color="#565656"/><stop offset=".941" stop-color="#5c5c5c"/><stop offset="1" stop-color="#666666"/></linearGradient>
<linearGradient id="ap2t" class="w" gradientUnits="userSpaceOnUse" x1="0" y1="637" x2="0" y2="767"><stop offset="0" stop-opacity="0"/><stop offset=".059" stop-opacity="0"/><stop offset=".118" stop-opacity="0"/><stop offset=".176" stop-opacity="0"/><stop offset=".235" stop-opacity=".003"/><stop offset=".294" stop-opacity=".008"/><stop offset=".353" stop-opacity=".012"/><stop offset=".412" stop-opacity=".015"/><stop offset=".471" stop-opacity=".022"/><stop offset=".529" stop-opacity=".035"/><stop offset=".588" stop-opacity=".049"/><stop offset=".647" stop-opacity=".063"/><stop offset=".706" stop-opacity=".077"/><stop offset=".765" stop-opacity=".093"/><stop offset=".824" stop-opacity=".124"/><stop offset=".882" stop-opacity=".189"/><stop offset=".941" stop-opacity=".289"/><stop offset="1" stop-opacity=".444"/></linearGradient>
<mask id="mp2t" maskUnits="userSpaceOnUse" x="957" y="637" width="332.3" height="130"><rect x="957" y="637" width="332.3" height="130" fill="url(#ap2t)"/></mask>
<linearGradient id="wp2t" class="w" gradientUnits="userSpaceOnUse" x1="957" y1="0" x2="1289.3" y2="0"><stop offset="0" stop-opacity=".033"/><stop offset=".018" stop-opacity=".082"/><stop offset=".036" stop-opacity=".151"/><stop offset=".055" stop-opacity=".236"/><stop offset=".073" stop-opacity=".333"/><stop offset=".091" stop-opacity=".439"/><stop offset=".109" stop-opacity=".547"/><stop offset=".127" stop-opacity=".653"/><stop offset=".145" stop-opacity=".751"/><stop offset=".164" stop-opacity=".839"/><stop offset=".182" stop-opacity=".91"/><stop offset=".2" stop-opacity=".962"/><stop offset=".218" stop-opacity=".992"/><stop offset=".236" stop-opacity="1"/><stop offset=".255" stop-opacity=".984"/><stop offset=".273" stop-opacity=".945"/><stop offset=".291" stop-opacity=".885"/><stop offset=".309" stop-opacity=".808"/><stop offset=".327" stop-opacity=".716"/><stop offset=".345" stop-opacity=".614"/><stop offset=".364" stop-opacity=".507"/><stop offset=".382" stop-opacity=".399"/><stop offset=".4" stop-opacity=".296"/><stop offset=".418" stop-opacity=".203"/><stop offset=".436" stop-opacity=".123"/><stop offset=".455" stop-opacity=".061"/><stop offset=".473" stop-opacity=".02"/><stop offset=".491" stop-opacity=".001"/><stop offset=".509" stop-opacity=".006"/><stop offset=".527" stop-opacity=".033"/><stop offset=".545" stop-opacity=".083"/><stop offset=".564" stop-opacity=".152"/><stop offset=".582" stop-opacity=".237"/><stop offset=".6" stop-opacity=".335"/><stop offset=".618" stop-opacity=".44"/><stop offset=".636" stop-opacity=".548"/><stop offset=".655" stop-opacity=".654"/><stop offset=".673" stop-opacity=".753"/><stop offset=".691" stop-opacity=".84"/><stop offset=".709" stop-opacity=".911"/><stop offset=".727" stop-opacity=".962"/><stop offset=".745" stop-opacity=".993"/><stop offset=".764" stop-opacity="1"/><stop offset=".782" stop-opacity=".983"/><stop offset=".8" stop-opacity=".944"/><stop offset=".818" stop-opacity=".884"/><stop offset=".836" stop-opacity=".807"/><stop offset=".855" stop-opacity=".715"/><stop offset=".873" stop-opacity=".612"/><stop offset=".891" stop-opacity=".505"/><stop offset=".909" stop-opacity=".397"/><stop offset=".927" stop-opacity=".295"/><stop offset=".945" stop-opacity=".201"/><stop offset=".964" stop-opacity=".122"/><stop offset=".982" stop-opacity=".06"/><stop offset="1" stop-opacity=".019"/></linearGradient>
<g clip-path="url(#cp2t)">
<rect x="957" y="637" width="332.3" height="130" fill="url(#bp2t)"/>
<rect x="957" y="637" width="332.3" height="130" fill="url(#wp2t)" mask="url(#mp2t)"/>
<ellipse cx="957" cy="767" rx="105" ry="42" fill="url(#gW)" opacity=".08"/>
<ellipse cx="1289.3" cy="767" rx="105" ry="42" fill="url(#gW)" opacity=".08"/>
<ellipse cx="957" cy="637" rx="225" ry="165" fill="url(#gK)" opacity=".75"/>
<ellipse cx="1289.3" cy="637" rx="225" ry="165" fill="url(#gK)" opacity=".75"/>
</g>
<clipPath id="cp2s"><rect x="957" y="767" width="332.3" height="92.2"/></clipPath>
<linearGradient id="bp2s" gradientUnits="userSpaceOnUse" x1="0" y1="767" x2="0" y2="859.2"><stop offset="0" stop-color="#555555"/><stop offset=".048" stop-color="#555555"/><stop offset=".095" stop-color="#555555"/><stop offset=".143" stop-color="#555555"/><stop offset=".19" stop-color="#555555"/><stop offset=".238" stop-color="#555555"/><stop offset=".286" stop-color="#555555"/><stop offset=".333" stop-color="#555555"/><stop offset=".381" stop-color="#555555"/><stop offset=".429" stop-color="#555555"/><stop offset=".476" stop-color="#555555"/><stop offset=".524" stop-color="#555555"/><stop offset=".571" stop-color="#555555"/><stop offset=".619" stop-color="#555555"/><stop offset=".667" stop-color="#555555"/><stop offset=".714" stop-color="#555555"/><stop offset=".762" stop-color="#555555"/><stop offset=".81" stop-color="#555555"/><stop offset=".857" stop-color="#555555"/><stop offset=".905" stop-color="#555555"/><stop offset=".952" stop-color="#555555"/><stop offset="1" stop-color="#555555"/></linearGradient>
<g clip-path="url(#cp2s)">
<rect x="957" y="767" width="332.3" height="92.2" fill="url(#bp2s)"/>
<ellipse cx="1124" cy="770.5" rx="90" ry="18" fill="url(#gW)" opacity=".22"/>
<ellipse cx="957" cy="774.5" rx="66" ry="21" fill="url(#gW)" opacity=".24"/>
<ellipse cx="1289.3" cy="774.5" rx="66" ry="21" fill="url(#gW)" opacity=".26"/>
<ellipse cx="1033" cy="813" rx="90" ry="78" fill="url(#gW)" opacity=".13"/>
<ellipse cx="1209.6" cy="815" rx="90" ry="78" fill="url(#gW)" opacity=".16"/>
<ellipse cx="1033" cy="817" rx="60" ry="24" fill="url(#gW)" opacity=".03"/>
<ellipse cx="1209.6" cy="820" rx="66" ry="24" fill="url(#gW)" opacity=".05"/>
<ellipse cx="1121" cy="855" rx="90" ry="18" fill="url(#gW)" opacity=".14"/>
<ellipse cx="1038.5" cy="771.8" rx="60" ry="27" fill="url(#gK)" opacity=".68"/>
<ellipse cx="1201.6" cy="773.1" rx="60" ry="27" fill="url(#gK)" opacity=".68"/>
<ellipse cx="1121.4" cy="816" rx="51" ry="30" fill="url(#gK)" opacity=".9"/>
<ellipse cx="957" cy="818.6" rx="60" ry="39" fill="url(#gK)" opacity=".9"/>
<ellipse cx="1289.3" cy="818.6" rx="60" ry="39" fill="url(#gK)" opacity=".9"/>
<ellipse cx="1036" cy="854.7" rx="54" ry="18" fill="url(#gK)" opacity=".33"/>
<ellipse cx="1209.6" cy="855" rx="54" ry="18" fill="url(#gK)" opacity=".45"/>
</g>
<clipPath id="cp2b"><rect x="957" y="859.2" width="332.3" height="119.8"/></clipPath>
<linearGradient id="bp2b" gradientUnits="userSpaceOnUse" x1="0" y1="859.2" x2="0" y2="979"><stop offset="0" stop-color="#646464"/><stop offset=".059" stop-color="#5f5f5f"/><stop offset=".118" stop-color="#5a5a5a"/><stop offset=".176" stop-color="#565656"/><stop offset=".235" stop-color="#4f4f4f"/><stop offset=".294" stop-color="#494949"/><stop offset=".353" stop-color="#424242"/><stop offset=".412" stop-color="#3d3d3d"/><stop offset=".471" stop-color="#383838"/><stop offset=".529" stop-color="#333333"/><stop offset=".588" stop-color="#303030"/><stop offset=".647" stop-color="#2d2d2d"/><stop offset=".706" stop-color="#2a2a2a"/><stop offset=".765" stop-color="#282828"/><stop offset=".824" stop-color="#272727"/><stop offset=".882" stop-color="#252525"/><stop offset=".941" stop-color="#232323"/><stop offset="1" stop-color="#222222"/></linearGradient>
<linearGradient id="ap2b" class="w" gradientUnits="userSpaceOnUse" x1="0" y1="859.2" x2="0" y2="979"><stop offset="0" stop-opacity=".712"/><stop offset=".059" stop-opacity=".629"/><stop offset=".118" stop-opacity=".54"/><stop offset=".176" stop-opacity=".446"/><stop offset=".235" stop-opacity=".349"/><stop offset=".294" stop-opacity=".28"/><stop offset=".353" stop-opacity=".226"/><stop offset=".412" stop-opacity=".194"/><stop offset=".471" stop-opacity=".172"/><stop offset=".529" stop-opacity=".156"/><stop offset=".588" stop-opacity=".145"/><stop offset=".647" stop-opacity=".132"/><stop offset=".706" stop-opacity=".118"/><stop offset=".765" stop-opacity=".105"/><stop offset=".824" stop-opacity=".091"/><stop offset=".882" stop-opacity=".077"/><stop offset=".941" stop-opacity=".063"/><stop offset="1" stop-opacity=".048"/></linearGradient>
<mask id="mp2b" maskUnits="userSpaceOnUse" x="957" y="859.2" width="332.3" height="119.8"><rect x="957" y="859.2" width="332.3" height="119.8" fill="url(#ap2b)"/></mask>
<linearGradient id="wp2b" class="w" gradientUnits="userSpaceOnUse" x1="957" y1="0" x2="1289.3" y2="0"><stop offset="0" stop-opacity=".018"/><stop offset=".018" stop-opacity=".059"/><stop offset=".036" stop-opacity=".122"/><stop offset=".055" stop-opacity=".202"/><stop offset=".073" stop-opacity=".297"/><stop offset=".091" stop-opacity=".402"/><stop offset=".109" stop-opacity=".511"/><stop offset=".127" stop-opacity=".62"/><stop offset=".145" stop-opacity=".723"/><stop offset=".164" stop-opacity=".815"/><stop offset=".182" stop-opacity=".893"/><stop offset=".2" stop-opacity=".951"/><stop offset=".218" stop-opacity=".987"/><stop offset=".236" stop-opacity="1"/><stop offset=".255" stop-opacity=".989"/><stop offset=".273" stop-opacity=".954"/><stop offset=".291" stop-opacity=".897"/><stop offset=".309" stop-opacity=".821"/><stop offset=".327" stop-opacity=".73"/><stop offset=".345" stop-opacity=".627"/><stop offset=".364" stop-opacity=".519"/><stop offset=".382" stop-opacity=".409"/><stop offset=".4" stop-opacity=".304"/><stop offset=".418" stop-opacity=".208"/><stop offset=".436" stop-opacity=".127"/><stop offset=".455" stop-opacity=".063"/><stop offset=".473" stop-opacity=".021"/><stop offset=".491" stop-opacity=".001"/><stop offset=".509" stop-opacity=".006"/><stop offset=".527" stop-opacity=".034"/><stop offset=".545" stop-opacity=".085"/><stop offset=".564" stop-opacity=".156"/><stop offset=".582" stop-opacity=".244"/><stop offset=".6" stop-opacity=".344"/><stop offset=".618" stop-opacity=".451"/><stop offset=".636" stop-opacity=".561"/><stop offset=".655" stop-opacity=".668"/><stop offset=".673" stop-opacity=".767"/><stop offset=".691" stop-opacity=".853"/><stop offset=".709" stop-opacity=".922"/><stop offset=".727" stop-opacity=".97"/><stop offset=".745" stop-opacity=".996"/><stop offset=".764" stop-opacity=".998"/><stop offset=".782" stop-opacity=".976"/><stop offset=".8" stop-opacity=".931"/><stop offset=".818" stop-opacity=".865"/><stop offset=".836" stop-opacity=".781"/><stop offset=".855" stop-opacity=".684"/><stop offset=".873" stop-opacity=".579"/><stop offset=".891" stop-opacity=".469"/><stop offset=".909" stop-opacity=".361"/><stop offset=".927" stop-opacity=".259"/><stop offset=".945" stop-opacity=".169"/><stop offset=".964" stop-opacity=".095"/><stop offset=".982" stop-opacity=".041"/><stop offset="1" stop-opacity=".009"/></linearGradient>
<g clip-path="url(#cp2b)">
<rect x="957" y="859.2" width="332.3" height="119.8" fill="url(#bp2b)"/>
<rect x="957" y="859.2" width="332.3" height="119.8" fill="url(#wp2b)" mask="url(#mp2b)"/>
<ellipse cx="957" cy="859.2" rx="105" ry="66" fill="url(#gW)" opacity=".1"/>
<ellipse cx="1289.3" cy="859.2" rx="120" ry="78" fill="url(#gW)" opacity=".12"/>
<ellipse cx="957" cy="979.2" rx="210" ry="165" fill="url(#gK)" opacity=".3"/>
<ellipse cx="1289.3" cy="979.2" rx="210" ry="165" fill="url(#gK)" opacity=".3"/>
</g>
</g>
<clipPath id="kp2"><rect x="957" y="637" width="332.3" height="342.0"/></clipPath>
<path clip-path="url(#kp2)" d="M968.2 661.8L966.8 661.7L967.9 662.6zM990.5 661.9L989.1 661.1L989.9 662.5zM1012.8 662L1011.6 660.4L1012 662.4zM1034.9 662.2L1034.5 659.9L1034.1 662.2zM1057.1 662.4L1057.8 659.7L1056.3 662zM1079.1 662.5L1081 660.1L1078.6 661.9zM1101.1 662.6L1104 661L1100.8 661.8zM1123.1 662.6L1126.4 662.3L1123.2 661.8zM1145.1 662.6L1148.2 663.5L1145.5 661.8zM1167.2 662.5L1169.5 664.4L1167.7 661.9zM1189.2 662.3L1190.6 664.8L1190 662.1zM1211.4 662.2L1211.7 664.5L1212.2 662.2zM1233.6 662L1233.1 663.9L1234.3 662.4zM1255.8 661.9L1254.9 663.2L1256.3 662.5zM1278.1 661.8L1276.9 662.7L1278.4 662.6zM968.2 689.2L965.4 688.5L967.9 689.9zM990.5 689.3L988 687.4L989.9 689.8zM1012.8 689.4L1011 686.3L1012 689.7zM1035 689.6L1034.5 685.5L1034.1 689.5zM1057.1 689.7L1058.4 685.5L1056.2 689.4zM1079.2 689.9L1082.1 686.4L1078.5 689.2zM1101.2 690L1105.3 687.8L1100.8 689.1zM1123.1 690.1L1127.8 689.6L1123.2 689zM1145.1 690L1149.6 691.4L1145.5 689.1zM1167.1 689.9L1170.6 692.9L1167.8 689.2zM1189.2 689.7L1191.1 693.6L1190.1 689.4zM1211.3 689.5L1211.6 693.5L1212.2 689.6zM1233.6 689.4L1232.4 692.8L1234.3 689.7zM1255.8 689.3L1253.8 691.6L1256.3 689.8zM1278.1 689.2L1275.5 690.5L1278.4 689.9zM968.3 716.3L963 714.9L967.9 717.5zM990.7 716.4L986 712.8L989.8 717.4zM1013 716.6L1009.9 710.9L1011.7 717.2zM1035.3 716.9L1034.6 710L1033.8 716.9zM1057.4 717.2L1059.5 710.3L1056 716.6zM1079.4 717.5L1083.9 712L1078.3 716.3zM1101.3 717.6L1107.3 714.4L1100.7 716.2zM1123.1 717.6L1129.9 717L1123.2 716.2zM1145 717.6L1151.5 719.7L1145.6 716.2zM1166.9 717.4L1172.3 722.1L1168 716.4zM1188.9 717.2L1192.1 723.6L1190.3 716.6zM1211 716.9L1211.5 723.8L1212.5 716.9zM1233.3 716.6L1231.2 722.7L1234.6 717.2zM1255.6 716.4L1251.7 720.8L1256.5 717.4zM1278 716.3L1273.1 718.7L1278.4 717.5zM968.4 743.4L960.2 741.1L967.7 745.1zM990.9 743.5L983.7 737.8L989.5 745zM1013.4 743.8L1008.6 735.1L1011.4 744.7zM1035.7 744.3L1034.6 733.9L1033.4 744.2zM1057.7 744.7L1060.6 734.9L1055.7 743.8zM1079.6 745L1085.7 737.6L1078.1 743.5zM1101.4 745.2L1109.3 741L1100.6 743.3zM1123.1 745.2L1131.8 744.4L1123.2 743.3zM1144.9 745.2L1153.5 747.9L1145.7 743.3zM1166.7 745L1174.1 751.3L1168.2 743.5zM1188.6 744.6L1193.2 753.8L1190.7 743.9zM1210.6 744.2L1211.4 754.5L1212.9 744.3zM1232.9 743.8L1229.8 753.1L1234.9 744.7zM1255.4 743.5L1249.3 750.3L1256.7 745zM1277.9 743.4L1270.3 747.1L1278.5 745.1zM968.3 770.7L959.9 770L967.9 772.5zM990.6 770.9L983.9 768.6L989.9 772.3zM1012.8 771.2L1009 767.7L1012 772zM1035 771.6L1034.6 767.3L1034.1 771.6zM1057.1 772L1060.1 767.7L1056.3 771.2zM1079.2 772.3L1085.2 768.6L1078.5 770.9zM1101.2 772.5L1109.2 770L1100.8 770.7zM1123.1 772.6L1132 771.7L1123.2 770.6zM1145.1 772.5L1153.4 773.3L1145.5 770.7zM1167.1 772.3L1173.5 774.7L1167.8 770.9zM1189.2 771.9L1192.7 775.6L1190 771.3zM1211.3 771.6L1211.4 775.9L1212.2 771.6zM1233.5 771.2L1230.2 775.5L1234.3 772zM1255.8 770.9L1249.5 774.5L1256.4 772.3zM1278.1 770.7L1269.9 773L1278.4 772.5zM968.5 798.5L963.9 795.3L967.7 799.4zM991 798.6L987.1 792L989.5 799.3zM1013.4 798.8L1010.7 789.9L1011.4 799.1zM1035.6 799L1034.5 789.1L1033.5 798.9zM1057.7 799.1L1058.4 789.9L1055.7 798.8zM1079.6 799.3L1082 792.1L1078.1 798.6zM1101.4 799.4L1105.1 795.3L1100.6 798.5zM1123.1 799.4L1127.6 799.2L1123.2 798.5zM1144.9 799.4L1149.4 803L1145.7 798.5zM1166.7 799.3L1170.5 806.1L1168.2 798.6zM1188.6 799.1L1191.2 808.2L1190.6 798.8zM1210.7 798.9L1211.6 808.8L1212.8 799zM1232.9 798.7L1232 807.9L1234.9 799.2zM1255.3 798.6L1252.8 805.6L1256.8 799.3zM1277.9 798.5L1274 802.2L1278.6 799.4zM968.5 826.7L972.1 822.6L967.7 825.9zM991 826.6L993.4 819.3L989.5 826zM1013.4 826.5L1014.1 817.1L1011.4 826.1zM1035.6 826.3L1034.5 816.3L1033.4 826.3zM1057.7 826.1L1055 817.1L1055.7 826.5zM1079.6 826L1075.7 819.3L1078.1 826.6zM1101.4 825.9L1096.9 822.6L1100.6 826.7zM1123.1 825.8L1118.8 826.5L1123.2 826.8zM1144.9 825.9L1141.3 830.3L1145.7 826.7zM1166.7 826L1164.5 833.6L1168.3 826.6zM1188.6 826.1L1188.1 835.6L1190.6 826.5zM1210.7 826.3L1211.9 836.3L1212.9 826.3zM1232.9 826.5L1235.8 835.3L1234.9 826.1zM1255.3 826.7L1259.3 833L1256.8 825.9zM1277.9 826.8L1282.4 829.6L1278.6 825.8zM968.3 854.5L976 852L967.9 852.8zM990.6 854.3L996.3 850.5L989.9 853zM1012.8 854L1015.7 849.5L1011.9 853.3zM1035 853.6L1034.5 849.1L1034 853.7zM1057.1 853.3L1053.4 849.5L1056.2 854zM1079.2 853L1072.7 850.5L1078.5 854.3zM1101.2 852.8L1093 852L1100.8 854.5zM1123.1 852.7L1114.6 853.7L1123.2 854.6zM1145.1 852.8L1137.5 855.5L1145.5 854.5zM1167.1 853L1161.6 856.9L1167.8 854.3zM1189.1 853.3L1186.6 857.9L1190.1 854zM1211.3 853.7L1212.1 858.2L1212.3 853.6zM1233.5 854L1237.5 857.7L1234.4 853.3zM1255.7 854.3L1262.4 856.7L1256.4 853zM1278.1 854.5L1286.3 855.1L1278.4 852.8zM968.5 882.1L977.7 877.2L967.7 879.9zM991.2 882L999 872.3L989.3 880zM1013.9 881.6L1018 867.5L1010.9 880.4zM1036.3 881L1034.5 865.2L1032.8 881zM1058.2 880.4L1050.9 867.2L1055.2 881.6zM1079.8 880L1069.8 872.2L1077.9 882zM1101.4 880L1091.5 877.3L1100.6 882zM1123.1 880L1114 881.2L1123.2 882zM1144.8 880L1135.8 885.2L1145.8 882zM1166.4 880L1158.6 890.4L1168.5 882zM1188 880.4L1184.3 895.2L1191.2 881.6zM1210 881.1L1212.4 896.8L1213.5 880.9zM1232.5 881.7L1240.1 894.2L1235.4 880.3zM1255.2 882L1265.2 889.3L1257 880zM1277.8 882.1L1288.1 884.5L1278.6 879.9zM968.3 909L974.1 905.9L967.8 907.7zM990.8 909L995.7 902.9L989.6 907.7zM1013.3 908.7L1015.9 900L1011.5 908zM1035.6 908.3L1034.5 898.5L1033.5 908.4zM1057.7 907.9L1053 899.5L1055.7 908.8zM1079.5 907.7L1072.8 902.4L1078.2 909zM1101.3 907.6L1094.3 905.7L1100.7 909.1zM1123.1 907.6L1116.4 908.5L1123.2 909.1zM1145 907.6L1138.6 911.3L1145.6 909.1zM1166.8 907.7L1161.6 914.6L1168.1 909zM1188.6 908L1186.2 917.4L1190.6 908.7zM1210.7 908.4L1212.2 918.2L1212.8 908.3zM1233 908.8L1237.7 916.5L1234.8 907.9zM1255.5 909L1261.8 913.5L1256.6 907.7zM1278 909L1284.5 910.6L1278.5 907.7zM968.3 936.2L972.2 934.1L967.9 935.2zM990.6 936.1L994.1 931.9L989.8 935.3zM1013 936L1014.9 929.7L1011.7 935.4zM1035.3 935.7L1034.5 928.5L1033.7 935.7zM1057.4 935.4L1053.9 929.1L1056 936zM1079.3 935.2L1074.3 931.2L1078.4 936.2zM1101.2 935.1L1095.9 933.7L1100.8 936.3zM1123.1 935.1L1118.1 935.8L1123.2 936.3zM1145.1 935.1L1140.2 938L1145.6 936.3zM1166.9 935.2L1163 940.4L1168 936.2zM1188.9 935.4L1187.1 942.4L1190.4 936zM1211 935.7L1212 942.9L1212.6 935.7zM1233.3 936L1236.6 941.5L1234.6 935.4zM1255.7 936.1L1260 939.2L1256.5 935.3zM1278.1 936.2L1282.4 937.2L1278.4 935.2zM968.2 963.4L971.2 961.8L967.9 962.7zM990.5 963.4L993.1 960.2L989.9 962.7zM1012.9 963.3L1014.2 958.6L1011.9 962.8zM1035.1 963L1034.5 957.7L1034 963.1zM1057.2 962.8L1054.6 958.1L1056.1 963.3zM1079.2 962.7L1075.3 959.6L1078.5 963.4zM1101.2 962.6L1096.8 961.4L1100.8 963.5zM1123.1 962.6L1118.9 963.1L1123.2 963.5zM1145.1 962.6L1141.2 964.9L1145.5 963.5zM1167 962.7L1164 966.7L1167.9 963.4zM1189 962.8L1187.7 968.1L1190.2 963.3zM1211.2 963.1L1212 968.4L1212.3 963zM1233.4 963.3L1235.9 967.3L1234.4 962.8zM1255.8 963.4L1259 965.7L1256.4 962.7zM1278.1 963.4L1281.4 964.2L1278.4 962.7z" fill="#000"/>
<path d="M957.3 637V979M1289.0 637V979" fill="none" stroke="#000" stroke-width="1.3"/>
<path d="M957 767H1289.3M957 859.2H1289.3" stroke="#000" stroke-width="1.3" fill="none"/>
<rect x="1308.6" y="591.4" width="257.7" height="45.4" fill="#bfbfbf"/>
<text x="1338.0" y="624.8" font-size="38" text-anchor="start" ><tspan class="i">R</tspan> = 120 nm</text>
<g filter="url(#bwr)">
<clipPath id="cp3t"><rect x="1315.6" y="637" width="330.1" height="145"/></clipPath>
<linearGradient id="bp3t" gradientUnits="userSpaceOnUse" x1="0" y1="637" x2="0" y2="782"><stop offset="0" stop-color="#0b0b0b"/><stop offset=".059" stop-color="#0b0b0b"/><stop offset=".118" stop-color="#0c0c0c"/><stop offset=".176" stop-color="#0d0d0d"/><stop offset=".235" stop-color="#0f0f0f"/><stop offset=".294" stop-color="#121212"/><stop offset=".353" stop-color="#171717"/><stop offset=".412" stop-color="#1b1b1b"/><stop offset=".471" stop-color="#212121"/><stop offset=".529" stop-color="#262626"/><stop offset=".588" stop-color="#2c2c2c"/><stop offset=".647" stop-color="#313131"/><stop offset=".706" stop-color="#373737"/><stop offset=".765" stop-color="#3c3c3c"/><stop offset=".824" stop-color="#414141"/><stop offset=".882" stop-color="#474747"/><stop offset=".941" stop-color="#4e4e4e"/><stop offset="1" stop-color="#555555"/></linearGradient>
<linearGradient id="ap3t" class="w" gradientUnits="userSpaceOnUse" x1="0" y1="637" x2="0" y2="782"><stop offset="0" stop-opacity="0"/><stop offset=".059" stop-opacity=".001"/><stop offset=".118" stop-opacity=".003"/><stop offset=".176" stop-opacity=".006"/><stop offset=".235" stop-opacity=".009"/><stop offset=".294" stop-opacity=".012"/><stop offset=".353" stop-opacity=".015"/><stop offset=".412" stop-opacity=".019"/><stop offset=".471" stop-opacity=".024"/><stop offset=".529" stop-opacity=".034"/><stop offset=".588" stop-opacity=".047"/><stop offset=".647" stop-opacity=".066"/><stop offset=".706" stop-opacity=".092"/><stop offset=".765" stop-opacity=".127"/><stop offset=".824" stop-opacity=".163"/><stop offset=".882" stop-opacity=".201"/><stop offset=".941" stop-opacity=".269"/><stop offset="1" stop-opacity=".375"/></linearGradient>
<mask id="mp3t" maskUnits="userSpaceOnUse" x="1315.6" y="637" width="330.1" height="145"><rect x="1315.6" y="637" width="330.1" height="145" fill="url(#ap3t)"/></mask>
<linearGradient id="wp3t" class="w" gradientUnits="userSpaceOnUse" x1="1315.6" y1="0" x2="1645.7" y2="0"><stop offset="0" stop-opacity=".021"/><stop offset=".018" stop-opacity=".065"/><stop offset=".036" stop-opacity=".13"/><stop offset=".055" stop-opacity=".213"/><stop offset=".073" stop-opacity=".311"/><stop offset=".091" stop-opacity=".417"/><stop offset=".109" stop-opacity=".528"/><stop offset=".127" stop-opacity=".637"/><stop offset=".145" stop-opacity=".74"/><stop offset=".164" stop-opacity=".831"/><stop offset=".182" stop-opacity=".905"/><stop offset=".2" stop-opacity=".96"/><stop offset=".218" stop-opacity=".992"/><stop offset=".236" stop-opacity="1"/><stop offset=".255" stop-opacity=".983"/><stop offset=".273" stop-opacity=".942"/><stop offset=".291" stop-opacity=".88"/><stop offset=".309" stop-opacity=".799"/><stop offset=".327" stop-opacity=".703"/><stop offset=".345" stop-opacity=".597"/><stop offset=".364" stop-opacity=".487"/><stop offset=".382" stop-opacity=".377"/><stop offset=".4" stop-opacity=".273"/><stop offset=".418" stop-opacity=".181"/><stop offset=".436" stop-opacity=".104"/><stop offset=".455" stop-opacity=".046"/><stop offset=".473" stop-opacity=".011"/><stop offset=".491" stop-opacity="0"/><stop offset=".509" stop-opacity=".014"/><stop offset=".527" stop-opacity=".051"/><stop offset=".545" stop-opacity=".111"/><stop offset=".564" stop-opacity=".189"/><stop offset=".582" stop-opacity=".283"/><stop offset=".6" stop-opacity=".388"/><stop offset=".618" stop-opacity=".498"/><stop offset=".636" stop-opacity=".608"/><stop offset=".655" stop-opacity=".713"/><stop offset=".673" stop-opacity=".808"/><stop offset=".691" stop-opacity=".887"/><stop offset=".709" stop-opacity=".947"/><stop offset=".727" stop-opacity=".986"/><stop offset=".745" stop-opacity="1"/><stop offset=".764" stop-opacity=".99"/><stop offset=".782" stop-opacity=".955"/><stop offset=".8" stop-opacity=".899"/><stop offset=".818" stop-opacity=".822"/><stop offset=".836" stop-opacity=".73"/><stop offset=".855" stop-opacity=".627"/><stop offset=".873" stop-opacity=".517"/><stop offset=".891" stop-opacity=".406"/><stop offset=".909" stop-opacity=".3"/><stop offset=".927" stop-opacity=".204"/><stop offset=".945" stop-opacity=".123"/><stop offset=".964" stop-opacity=".06"/><stop offset=".982" stop-opacity=".018"/><stop offset="1" stop-opacity=".001"/></linearGradient>
<g clip-path="url(#cp3t)">
<rect x="1315.6" y="637" width="330.1" height="145" fill="url(#bp3t)"/>
<rect x="1315.6" y="637" width="330.1" height="145" fill="url(#wp3t)" mask="url(#mp3t)"/>
</g>
<clipPath id="cp3s"><rect x="1315.6" y="782" width="330.1" height="66.8"/></clipPath>
<linearGradient id="bp3s" gradientUnits="userSpaceOnUse" x1="0" y1="782" x2="0" y2="848.8"><stop offset="0" stop-color="#404040"/><stop offset=".048" stop-color="#404040"/><stop offset=".095" stop-color="#404040"/><stop offset=".143" stop-color="#404040"/><stop offset=".19" stop-color="#404040"/><stop offset=".238" stop-color="#404040"/><stop offset=".286" stop-color="#404040"/><stop offset=".333" stop-color="#404040"/><stop offset=".381" stop-color="#404040"/><stop offset=".429" stop-color="#404040"/><stop offset=".476" stop-color="#404040"/><stop offset=".524" stop-color="#404040"/><stop offset=".571" stop-color="#404040"/><stop offset=".619" stop-color="#404040"/><stop offset=".667" stop-color="#404040"/><stop offset=".714" stop-color="#404040"/><stop offset=".762" stop-color="#404040"/><stop offset=".81" stop-color="#404040"/><stop offset=".857" stop-color="#404040"/><stop offset=".905" stop-color="#404040"/><stop offset=".952" stop-color="#404040"/><stop offset="1" stop-color="#404040"/></linearGradient>
<g clip-path="url(#cp3s)">
<rect x="1315.6" y="782" width="330.1" height="66.8" fill="url(#bp3s)"/>
<ellipse cx="1480.6" cy="786.5" rx="120" ry="21" fill="url(#gW)" opacity=".22"/>
<ellipse cx="1315.6" cy="786.5" rx="90" ry="21" fill="url(#gW)" opacity=".22"/>
<ellipse cx="1645.7" cy="786.5" rx="90" ry="21" fill="url(#gW)" opacity=".22"/>
<ellipse cx="1392.6" cy="812" rx="105" ry="36" fill="url(#gW)" opacity=".09"/>
<ellipse cx="1566.3" cy="814.6" rx="105" ry="36" fill="url(#gW)" opacity=".11"/>
<ellipse cx="1480.6" cy="844" rx="105" ry="18" fill="url(#gW)" opacity=".13"/>
<ellipse cx="1315.6" cy="844" rx="75" ry="18" fill="url(#gW)" opacity=".2"/>
<ellipse cx="1645.7" cy="844" rx="75" ry="18" fill="url(#gW)" opacity=".2"/>
<ellipse cx="1397.9" cy="786.5" rx="54" ry="18" fill="url(#gK)" opacity=".7"/>
<ellipse cx="1563.6" cy="786.5" rx="54" ry="18" fill="url(#gK)" opacity=".7"/>
<ellipse cx="1480.6" cy="818.6" rx="72" ry="24" fill="url(#gK)" opacity=".93"/>
<ellipse cx="1315.6" cy="818.6" rx="66" ry="24" fill="url(#gK)" opacity=".93"/>
<ellipse cx="1645.7" cy="820" rx="66" ry="24" fill="url(#gK)" opacity=".93"/>
<ellipse cx="1392.6" cy="845.4" rx="60" ry="15" fill="url(#gK)" opacity=".5"/>
<ellipse cx="1566.3" cy="844" rx="60" ry="15" fill="url(#gK)" opacity=".33"/>
</g>
<clipPath id="cp3b"><rect x="1315.6" y="848.8" width="330.1" height="130.2"/></clipPath>
<linearGradient id="bp3b" gradientUnits="userSpaceOnUse" x1="0" y1="848.8" x2="0" y2="979"><stop offset="0" stop-color="#151515"/><stop offset=".059" stop-color="#1a1a1a"/><stop offset=".118" stop-color="#1e1e1e"/><stop offset=".176" stop-color="#222222"/><stop offset=".235" stop-color="#272727"/><stop offset=".294" stop-color="#2b2b2b"/><stop offset=".353" stop-color="#2f2f2f"/><stop offset=".412" stop-color="#333333"/><stop offset=".471" stop-color="#363636"/><stop offset=".529" stop-color="#383838"/><stop offset=".588" stop-color="#3a3a3a"/><stop offset=".647" stop-color="#3b3b3b"/><stop offset=".706" stop-color="#3b3b3b"/><stop offset=".765" stop-color="#3a3a3a"/><stop offset=".824" stop-color="#383838"/><stop offset=".882" stop-color="#353535"/><stop offset=".941" stop-color="#303030"/><stop offset="1" stop-color="#2b2b2b"/></linearGradient>
<linearGradient id="ap3b" class="w" gradientUnits="userSpaceOnUse" x1="0" y1="848.8" x2="0" y2="979"><stop offset="0" stop-opacity=".909"/><stop offset=".059" stop-opacity=".837"/><stop offset=".118" stop-opacity=".761"/><stop offset=".176" stop-opacity=".674"/><stop offset=".235" stop-opacity=".589"/><stop offset=".294" stop-opacity=".518"/><stop offset=".353" stop-opacity=".456"/><stop offset=".412" stop-opacity=".396"/><stop offset=".471" stop-opacity=".333"/><stop offset=".529" stop-opacity=".272"/><stop offset=".588" stop-opacity=".221"/><stop offset=".647" stop-opacity=".176"/><stop offset=".706" stop-opacity=".14"/><stop offset=".765" stop-opacity=".115"/><stop offset=".824" stop-opacity=".099"/><stop offset=".882" stop-opacity=".092"/><stop offset=".941" stop-opacity=".092"/><stop offset="1" stop-opacity=".1"/></linearGradient>
<mask id="mp3b" maskUnits="userSpaceOnUse" x="1315.6" y="848.8" width="330.1" height="130.2"><rect x="1315.6" y="848.8" width="330.1" height="130.2" fill="url(#ap3b)"/></mask>
<linearGradient id="wp3b" class="w" gradientUnits="userSpaceOnUse" x1="1315.6" y1="0" x2="1645.7" y2="0"><stop offset="0" stop-opacity=".12"/><stop offset=".018" stop-opacity=".218"/><stop offset=".036" stop-opacity=".319"/><stop offset=".055" stop-opacity=".42"/><stop offset=".073" stop-opacity=".518"/><stop offset=".091" stop-opacity=".612"/><stop offset=".109" stop-opacity=".698"/><stop offset=".127" stop-opacity=".776"/><stop offset=".145" stop-opacity=".844"/><stop offset=".164" stop-opacity=".901"/><stop offset=".182" stop-opacity=".945"/><stop offset=".2" stop-opacity=".977"/><stop offset=".218" stop-opacity=".995"/><stop offset=".236" stop-opacity="1"/><stop offset=".255" stop-opacity=".99"/><stop offset=".273" stop-opacity=".967"/><stop offset=".291" stop-opacity=".93"/><stop offset=".309" stop-opacity=".881"/><stop offset=".327" stop-opacity=".82"/><stop offset=".345" stop-opacity=".748"/><stop offset=".364" stop-opacity=".667"/><stop offset=".382" stop-opacity=".578"/><stop offset=".4" stop-opacity=".482"/><stop offset=".418" stop-opacity=".383"/><stop offset=".436" stop-opacity=".281"/><stop offset=".455" stop-opacity=".181"/><stop offset=".473" stop-opacity=".086"/><stop offset=".491" stop-opacity=".008"/><stop offset=".509" stop-opacity=".034"/><stop offset=".527" stop-opacity=".121"/><stop offset=".545" stop-opacity=".219"/><stop offset=".564" stop-opacity=".32"/><stop offset=".582" stop-opacity=".422"/><stop offset=".6" stop-opacity=".52"/><stop offset=".618" stop-opacity=".613"/><stop offset=".636" stop-opacity=".699"/><stop offset=".655" stop-opacity=".777"/><stop offset=".673" stop-opacity=".845"/><stop offset=".691" stop-opacity=".902"/><stop offset=".709" stop-opacity=".946"/><stop offset=".727" stop-opacity=".978"/><stop offset=".745" stop-opacity=".996"/><stop offset=".764" stop-opacity="1"/><stop offset=".782" stop-opacity=".99"/><stop offset=".8" stop-opacity=".967"/><stop offset=".818" stop-opacity=".93"/><stop offset=".836" stop-opacity=".88"/><stop offset=".855" stop-opacity=".819"/><stop offset=".873" stop-opacity=".747"/><stop offset=".891" stop-opacity=".666"/><stop offset=".909" stop-opacity=".576"/><stop offset=".927" stop-opacity=".481"/><stop offset=".945" stop-opacity=".381"/><stop offset=".964" stop-opacity=".28"/><stop offset=".982" stop-opacity=".179"/><stop offset="1" stop-opacity=".084"/></linearGradient>
<g clip-path="url(#cp3b)">
<rect x="1315.6" y="848.8" width="330.1" height="130.2" fill="url(#bp3b)"/>
<rect x="1315.6" y="848.8" width="330.1" height="130.2" fill="url(#wp3b)" mask="url(#mp3b)"/>
<ellipse cx="1315.6" cy="978.8" rx="120" ry="180" fill="url(#gK)" opacity=".35"/>
<ellipse cx="1645.7" cy="978.8" rx="120" ry="180" fill="url(#gK)" opacity=".35"/>
</g>
</g>
<clipPath id="kp3"><rect x="1315.6" y="637" width="330.1" height="342.0"/></clipPath>
<path clip-path="url(#kp3)" d="M1326.7 665.8L1324.9 665.6L1326.5 666.6zM1348.9 665.9L1347.2 664.9L1348.3 666.5zM1371 666L1369.8 664.4L1370.2 666.4zM1393 666.2L1392.6 664.2L1392.2 666.2zM1415 666.4L1415.4 664.4L1414.3 666zM1436.9 666.5L1438 664.9L1436.4 665.9zM1458.8 666.6L1460.4 665.6L1458.5 665.8zM1480.6 666.6L1482.5 666.3L1480.7 665.8zM1502.5 666.6L1504.3 667L1502.8 665.8zM1524.4 666.5L1525.9 667.7L1525 665.9zM1546.3 666.3L1547.2 668.1L1547.1 666.1zM1568.3 666.2L1568.4 668.2L1569.1 666.2zM1590.3 666L1589.7 667.9L1591 666.4zM1612.5 665.9L1611.2 667.3L1612.9 666.5zM1634.6 665.8L1632.9 666.6L1634.8 666.6zM1326.7 692.8L1323.6 692.1L1326.5 693.6zM1348.9 692.9L1346.2 690.9L1348.3 693.5zM1371 693L1369.2 690L1370.2 693.4zM1393 693.2L1392.6 689.7L1392.2 693.2zM1415 693.4L1416 690L1414.3 693zM1436.9 693.5L1439 690.9L1436.4 692.9zM1458.8 693.6L1461.6 692.1L1458.5 692.8zM1480.6 693.6L1483.8 693.4L1480.7 692.8zM1502.5 693.6L1505.5 694.6L1502.8 692.8zM1524.4 693.5L1526.8 695.8L1525 692.9zM1546.3 693.3L1547.7 696.6L1547.1 693.1zM1568.3 693.2L1568.3 696.7L1569.1 693.2zM1590.3 693L1589 696.2L1591 693.4zM1612.5 692.9L1610.1 695.1L1612.9 693.5zM1634.6 692.8L1631.6 693.9L1634.8 693.6zM1326.8 719.7L1321.9 718.5L1326.4 720.7zM1349 719.8L1344.7 716.5L1348.2 720.6zM1371.2 720L1368.4 714.9L1370 720.4zM1393.3 720.2L1392.6 714.3L1392 720.2zM1415.2 720.5L1416.9 715L1414.1 719.9zM1437 720.6L1440.5 716.5L1436.2 719.8zM1458.8 720.7L1463.4 718.5L1458.5 719.7zM1480.6 720.7L1485.6 720.5L1480.7 719.7zM1502.4 720.7L1507.2 722.5L1502.9 719.7zM1524.2 720.6L1528.2 724.4L1525.1 719.8zM1546.1 720.4L1548.3 725.8L1547.3 720zM1568 720.1L1568 726L1569.3 720.3zM1590.1 719.9L1587.8 725.1L1591.2 720.5zM1612.3 719.7L1608.5 723.3L1613 720.7zM1634.6 719.7L1629.9 721.3L1634.8 720.7zM1326.9 746.5L1320.1 744.8L1326.3 747.9zM1349.2 746.6L1342.9 741.8L1348 747.8zM1371.5 746.8L1367.2 739.2L1369.7 747.6zM1393.6 747.2L1392.6 738.1L1391.6 747.2zM1415.5 747.6L1418.1 739.2L1413.7 746.8zM1437.2 747.8L1442.3 741.8L1436 746.6zM1458.9 747.9L1465.2 744.8L1458.4 746.5zM1480.6 747.9L1487.3 747.6L1480.7 746.5zM1502.3 747.9L1509.1 750.4L1503 746.5zM1524 747.8L1529.9 753.4L1525.3 746.6zM1545.7 747.5L1549.2 755.7L1547.6 746.9zM1567.7 747.1L1567.6 756.2L1569.7 747.3zM1589.9 746.7L1586.4 754.5L1591.5 747.7zM1612.2 746.5L1606.6 751.7L1613.2 747.9zM1634.5 746.5L1628.1 748.7L1634.9 747.9zM1326.9 773.3L1318 771.1L1326.3 775.1zM1349.4 773.3L1340.8 766.8L1347.8 775.1zM1371.9 773.7L1365.7 762.7L1369.4 774.7zM1394.1 774.2L1392.7 761L1391.2 774.2zM1415.9 774.7L1419.6 762.7L1413.4 773.7zM1437.4 775.1L1444.5 766.8L1435.8 773.3zM1459 775.1L1467.2 771.1L1458.3 773.3zM1480.6 775.1L1489.2 774.7L1480.7 773.3zM1502.2 775.1L1511.2 778.5L1503.1 773.3zM1523.7 775L1531.9 782.9L1525.6 773.4zM1545.3 774.6L1550.3 786.5L1548 773.8zM1567.2 774L1567.1 787.3L1570.1 774.4zM1589.5 773.5L1584.6 784.6L1591.8 774.9zM1612 773.3L1604.5 780.3L1613.4 775.1zM1634.5 773.3L1626.1 776.2L1634.9 775.1zM1326.9 800.8L1323.1 798.9L1326.3 801.6zM1349.1 800.9L1345.9 796.5L1348.1 801.5zM1371.3 801L1369.2 794.9L1369.9 801.4zM1393.4 801.2L1392.6 794.4L1391.9 801.2zM1415.3 801.4L1416.1 795L1413.9 801zM1437.1 801.5L1439.3 796.5L1436.1 800.9zM1458.9 801.6L1462.1 798.9L1458.4 800.8zM1480.6 801.6L1484.3 801.6L1480.7 800.8zM1502.3 801.6L1505.9 804.3L1503 800.8zM1524.1 801.5L1527 806.4L1525.2 800.9zM1546 801.3L1547.7 807.7L1547.4 801.1zM1567.9 801.2L1568.2 808L1569.4 801.2zM1590 801L1588.8 807.1L1591.3 801.4zM1612.2 800.9L1609.7 805.2L1613.1 801.5zM1634.5 800.8L1631.1 802.7L1634.9 801.6zM1326.9 828.6L1329.9 825.8L1326.3 827.8zM1349.1 828.5L1351.2 823.4L1348.1 827.9zM1371.3 828.4L1372 821.7L1369.9 828zM1393.4 828.2L1392.6 821.2L1391.8 828.2zM1415.3 828L1413.2 821.7L1413.9 828.4zM1437.2 827.9L1434 823.4L1436.1 828.5zM1458.9 827.8L1455.3 825.8L1458.4 828.6zM1480.6 827.8L1477.1 828.6L1480.7 828.6zM1502.3 827.9L1499.5 831.4L1503 828.5zM1524.1 828L1522.4 833.6L1525.3 828.4zM1545.9 828.1L1545.7 834.9L1547.4 828.3zM1567.9 828.2L1569.1 835.2L1569.4 828.2zM1590 828.4L1592.5 834.3L1591.4 828zM1612.2 828.5L1615.5 832.4L1613.1 827.9zM1634.5 828.6L1638.2 829.8L1634.9 827.8zM1327.2 856L1333.6 849.8L1326 854.4zM1350 856.2L1357.3 842.7L1347.2 854.2zM1372.7 855.9L1376.6 836.3L1368.5 854.5zM1394.9 855.2L1392.6 834.2L1390.3 855.2zM1416.7 854.5L1408.6 836.1L1412.5 855.9zM1438 854.2L1427.7 842.5L1435.2 856.2zM1459.2 854.4L1451.5 849.7L1458 856zM1480.5 854.8L1477.8 856.5L1480.8 855.6zM1501.9 854.4L1495.5 861.8L1503.4 856zM1523.1 854.3L1516.6 869.2L1526.2 856.1zM1544.5 854.7L1542.3 875.1L1548.9 855.7zM1566.4 855.4L1570.6 876.1L1571 855zM1588.7 856L1598.2 873.2L1592.7 854.4zM1611.5 856.2L1622.1 866.4L1613.9 854.2zM1634.2 855.9L1641.5 859.5L1635.2 854.5zM1327.1 882.9L1332.7 877.5L1326.1 881.5zM1349.7 882.9L1355.3 872.6L1347.6 881.5zM1372.2 882.7L1375.1 868.1L1369.1 881.7zM1394.4 882.2L1392.6 866.1L1390.9 882.2zM1416.2 881.7L1410 867.7L1413 882.7zM1437.8 881.4L1429.5 872L1435.5 883zM1459.2 881.5L1452 877.1L1458.1 882.9zM1480.4 881.7L1476.4 884.2L1480.9 882.7zM1502 881.5L1496.2 888.2L1503.3 882.9zM1523.4 881.5L1518.3 893.3L1525.9 882.9zM1545 881.8L1543.4 897.3L1548.3 882.6zM1566.9 882.4L1570.1 898.2L1570.4 882zM1589.2 882.8L1596.3 895.7L1592.2 881.6zM1611.7 883L1620 890.9L1613.6 881.4zM1634.3 882.9L1640.8 886.1L1635.1 881.5zM1327.1 909.8L1332 905L1326.1 908.6zM1349.4 909.8L1353.9 901.6L1347.8 908.6zM1371.8 909.6L1374 898.3L1369.4 908.8zM1394 909.2L1392.6 896.8L1391.3 909.2zM1415.9 908.8L1411 897.7L1413.4 909.6zM1437.6 908.5L1430.6 900.6L1435.7 909.9zM1459.2 908.5L1452.2 904.3L1458.1 909.9zM1480.4 908.6L1475.2 911.8L1480.9 909.8zM1502 908.5L1496.5 914.9L1503.3 909.9zM1523.6 908.6L1519.3 918.5L1525.7 909.8zM1545.4 908.9L1544.1 921.1L1548 909.5zM1567.3 909.3L1569.8 921.5L1570 909.1zM1589.5 909.7L1595 919.6L1591.8 908.7zM1611.9 909.8L1618.5 916.1L1613.5 908.6zM1634.3 909.8L1640.3 912.7L1635.1 908.6zM1327 936.7L1331.2 932.7L1326.2 935.7zM1349.3 936.7L1352.7 930.3L1348 935.7zM1371.5 936.5L1373.2 928L1369.7 935.9zM1393.7 936.2L1392.6 926.8L1391.6 936.2zM1415.6 935.9L1411.8 927.3L1413.6 936.5zM1437.4 935.6L1431.6 929.1L1435.9 936.8zM1459.2 935.5L1452.6 931.6L1458.1 936.9zM1480.3 935.5L1474.6 939L1481 936.9zM1502.1 935.6L1497 941.4L1503.2 936.8zM1523.8 935.7L1520.3 943.8L1525.5 936.7zM1545.7 936L1544.7 945.4L1547.7 936.4zM1567.6 936.3L1569.5 945.6L1569.7 936.1zM1589.8 936.6L1594 944.1L1591.5 935.8zM1612.1 936.7L1617.3 941.6L1613.3 935.7zM1634.4 936.7L1639.5 939.2L1635 935.7zM1326.9 963.6L1330.3 960.4L1326.3 962.8zM1349.1 963.6L1351.8 958.6L1348.1 962.8zM1371.3 963.4L1372.6 956.7L1369.9 963zM1393.4 963.2L1392.6 955.7L1391.8 963.2zM1415.4 962.9L1412.3 956L1413.8 963.5zM1437.3 962.7L1432.5 957.3L1436 963.7zM1459.1 962.6L1453.4 959.2L1458.2 963.8zM1480.4 962.6L1475.2 965.8L1480.9 963.8zM1502.2 962.7L1497.8 967.7L1503.2 963.7zM1524 962.8L1521 969.5L1525.4 963.6zM1545.9 963L1545 970.6L1547.5 963.4zM1567.9 963.3L1569.4 970.7L1569.5 963.1zM1590 963.5L1593.3 969.4L1591.4 962.9zM1612.2 963.6L1616.3 967.5L1613.2 962.8zM1634.4 963.6L1638.5 965.6L1635 962.8z" fill="#000"/>
<path d="M1315.9 637V979M1645.4 637V979" fill="none" stroke="#000" stroke-width="1.3"/>
<path d="M1315.6 782H1645.7M1315.6 848.8H1645.7" stroke="#000" stroke-width="1.3" fill="none"/>
<rect x="576.4" y="991.8" width="257.6" height="46.9" fill="#bfbfbf"/>
<text x="616.0" y="1027.7" font-size="38" text-anchor="start" ><tspan class="i">n</tspan><tspan class="i" font-size="24.5">sub</tspan> = 1.46</text>
<g filter="url(#bwr)">
<clipPath id="cp4t"><rect x="591.5" y="1039.2" width="335.5" height="142.4"/></clipPath>
<linearGradient id="bp4t" gradientUnits="userSpaceOnUse" x1="0" y1="1039.2" x2="0" y2="1181.6"><stop offset="0" stop-color="#0b0b0b"/><stop offset=".059" stop-color="#0b0b0b"/><stop offset=".118" stop-color="#0b0b0b"/><stop offset=".176" stop-color="#0c0c0c"/><stop offset=".235" stop-color="#0d0d0d"/><stop offset=".294" stop-color="#0f0f0f"/><stop offset=".353" stop-color="#111111"/><stop offset=".412" stop-color="#131313"/><stop offset=".471" stop-color="#171717"/><stop offset=".529" stop-color="#1c1c1c"/><stop offset=".588" stop-color="#222222"/><stop offset=".647" stop-color="#292929"/><stop offset=".706" stop-color="#2f2f2f"/><stop offset=".765" stop-color="#353535"/><stop offset=".824" stop-color="#3c3c3c"/><stop offset=".882" stop-color="#424242"/><stop offset=".941" stop-color="#484848"/><stop offset="1" stop-color="#4c4c4c"/></linearGradient>
<linearGradient id="ap4t" class="w" gradientUnits="userSpaceOnUse" x1="0" y1="1039.2" x2="0" y2="1181.6"><stop offset="0" stop-opacity="0"/><stop offset=".059" stop-opacity="0"/><stop offset=".118" stop-opacity="0"/><stop offset=".176" stop-opacity="0"/><stop offset=".235" stop-opacity="0"/><stop offset=".294" stop-opacity=".002"/><stop offset=".353" stop-opacity=".005"/><stop offset=".412" stop-opacity=".009"/><stop offset=".471" stop-opacity=".017"/><stop offset=".529" stop-opacity=".028"/><stop offset=".588" stop-opacity=".042"/><stop offset=".647" stop-opacity=".06"/><stop offset=".706" stop-opacity=".083"/><stop offset=".765" stop-opacity=".113"/><stop offset=".824" stop-opacity=".151"/><stop offset=".882" stop-opacity=".199"/><stop offset=".941" stop-opacity=".227"/><stop offset="1" stop-opacity=".286"/></linearGradient>
<mask id="mp4t" maskUnits="userSpaceOnUse" x="591.5" y="1039.2" width="335.5" height="142.4"><rect x="591.5" y="1039.2" width="335.5" height="142.4" fill="url(#ap4t)"/></mask>
<linearGradient id="wp4t" class="w" gradientUnits="userSpaceOnUse" x1="591.5" y1="0" x2="927" y2="0"><stop offset="0" stop-opacity=".012"/><stop offset=".018" stop-opacity=".041"/><stop offset=".036" stop-opacity=".092"/><stop offset=".055" stop-opacity=".163"/><stop offset=".073" stop-opacity=".253"/><stop offset=".091" stop-opacity=".357"/><stop offset=".109" stop-opacity=".471"/><stop offset=".127" stop-opacity=".588"/><stop offset=".145" stop-opacity=".701"/><stop offset=".164" stop-opacity=".803"/><stop offset=".182" stop-opacity=".889"/><stop offset=".2" stop-opacity=".953"/><stop offset=".218" stop-opacity=".99"/><stop offset=".236" stop-opacity="1"/><stop offset=".255" stop-opacity=".98"/><stop offset=".273" stop-opacity=".932"/><stop offset=".291" stop-opacity=".86"/><stop offset=".309" stop-opacity=".767"/><stop offset=".327" stop-opacity=".66"/><stop offset=".345" stop-opacity=".545"/><stop offset=".364" stop-opacity=".428"/><stop offset=".382" stop-opacity=".317"/><stop offset=".4" stop-opacity=".217"/><stop offset=".418" stop-opacity=".134"/><stop offset=".436" stop-opacity=".07"/><stop offset=".455" stop-opacity=".028"/><stop offset=".473" stop-opacity=".006"/><stop offset=".491" stop-opacity="0"/><stop offset=".509" stop-opacity=".004"/><stop offset=".527" stop-opacity=".024"/><stop offset=".545" stop-opacity=".064"/><stop offset=".564" stop-opacity=".125"/><stop offset=".582" stop-opacity=".206"/><stop offset=".6" stop-opacity=".304"/><stop offset=".618" stop-opacity=".414"/><stop offset=".636" stop-opacity=".531"/><stop offset=".655" stop-opacity=".646"/><stop offset=".673" stop-opacity=".755"/><stop offset=".691" stop-opacity=".85"/><stop offset=".709" stop-opacity=".925"/><stop offset=".727" stop-opacity=".975"/><stop offset=".745" stop-opacity=".999"/><stop offset=".764" stop-opacity=".993"/><stop offset=".782" stop-opacity=".959"/><stop offset=".8" stop-opacity=".898"/><stop offset=".818" stop-opacity=".815"/><stop offset=".836" stop-opacity=".714"/><stop offset=".855" stop-opacity=".602"/><stop offset=".873" stop-opacity=".485"/><stop offset=".891" stop-opacity=".37"/><stop offset=".909" stop-opacity=".264"/><stop offset=".927" stop-opacity=".173"/><stop offset=".945" stop-opacity=".099"/><stop offset=".964" stop-opacity=".046"/><stop offset=".982" stop-opacity=".014"/><stop offset="1" stop-opacity=".001"/></linearGradient>
<g clip-path="url(#cp4t)">
<rect x="591.5" y="1039.2" width="335.5" height="142.4" fill="url(#bp4t)"/>
<rect x="591.5" y="1039.2" width="335.5" height="142.4" fill="url(#wp4t)" mask="url(#mp4t)"/>
</g>
<clipPath id="cp4s"><rect x="591.5" y="1181.6" width="335.5" height="70.2"/></clipPath>
<linearGradient id="bp4s" gradientUnits="userSpaceOnUse" x1="0" y1="1181.6" x2="0" y2="1251.8"><stop offset="0" stop-color="#404040"/><stop offset=".048" stop-color="#404040"/><stop offset=".095" stop-color="#404040"/><stop offset=".143" stop-color="#404040"/><stop offset=".19" stop-color="#404040"/><stop offset=".238" stop-color="#404040"/><stop offset=".286" stop-color="#404040"/><stop offset=".333" stop-color="#404040"/><stop offset=".381" stop-color="#404040"/><stop offset=".429" stop-color="#404040"/><stop offset=".476" stop-color="#404040"/><stop offset=".524" stop-color="#404040"/><stop offset=".571" stop-color="#404040"/><stop offset=".619" stop-color="#404040"/><stop offset=".667" stop-color="#404040"/><stop offset=".714" stop-color="#404040"/><stop offset=".762" stop-color="#404040"/><stop offset=".81" stop-color="#404040"/><stop offset=".857" stop-color="#404040"/><stop offset=".905" stop-color="#404040"/><stop offset=".952" stop-color="#404040"/><stop offset="1" stop-color="#404040"/></linearGradient>
<g clip-path="url(#cp4s)">
<rect x="591.5" y="1181.6" width="335.5" height="70.2" fill="url(#bp4s)"/>
<ellipse cx="759.5" cy="1186.6" rx="120" ry="21" fill="url(#gW)" opacity=".19"/>
<ellipse cx="591.5" cy="1186.6" rx="96" ry="21" fill="url(#gW)" opacity=".22"/>
<ellipse cx="927" cy="1186.6" rx="90" ry="21" fill="url(#gW)" opacity=".22"/>
<ellipse cx="672.5" cy="1214.6" rx="105" ry="36" fill="url(#gW)" opacity=".07"/>
<ellipse cx="841.5" cy="1214.6" rx="105" ry="36" fill="url(#gW)" opacity=".07"/>
<ellipse cx="759.5" cy="1247.6" rx="105" ry="18" fill="url(#gW)" opacity=".11"/>
<ellipse cx="591.5" cy="1246.6" rx="78" ry="18" fill="url(#gW)" opacity=".2"/>
<ellipse cx="927" cy="1246.6" rx="78" ry="18" fill="url(#gW)" opacity=".2"/>
<ellipse cx="678" cy="1185.8" rx="54" ry="18" fill="url(#gK)" opacity=".7"/>
<ellipse cx="840.9" cy="1185.8" rx="54" ry="18" fill="url(#gK)" opacity=".7"/>
<ellipse cx="759.5" cy="1223.6" rx="72" ry="24" fill="url(#gK)" opacity=".93"/>
<ellipse cx="591.5" cy="1223.6" rx="66" ry="24" fill="url(#gK)" opacity=".93"/>
<ellipse cx="927" cy="1223.6" rx="66" ry="24" fill="url(#gK)" opacity=".93"/>
<ellipse cx="672.5" cy="1247.6" rx="60" ry="15" fill="url(#gK)" opacity=".33"/>
<ellipse cx="841.5" cy="1247.6" rx="60" ry="15" fill="url(#gK)" opacity=".5"/>
</g>
<clipPath id="cp4b"><rect x="591.5" y="1251.8" width="335.5" height="128.6"/></clipPath>
<linearGradient id="bp4b" gradientUnits="userSpaceOnUse" x1="0" y1="1251.8" x2="0" y2="1380.4"><stop offset="0" stop-color="#606060"/><stop offset=".059" stop-color="#464646"/><stop offset=".118" stop-color="#343434"/><stop offset=".176" stop-color="#282828"/><stop offset=".235" stop-color="#232323"/><stop offset=".294" stop-color="#202020"/><stop offset=".353" stop-color="#1e1e1e"/><stop offset=".412" stop-color="#1c1c1c"/><stop offset=".471" stop-color="#1c1c1c"/><stop offset=".529" stop-color="#1c1c1c"/><stop offset=".588" stop-color="#1c1c1c"/><stop offset=".647" stop-color="#1c1c1c"/><stop offset=".706" stop-color="#1c1c1c"/><stop offset=".765" stop-color="#1c1c1c"/><stop offset=".824" stop-color="#1c1c1c"/><stop offset=".882" stop-color="#1d1d1d"/><stop offset=".941" stop-color="#1e1e1e"/><stop offset="1" stop-color="#202020"/></linearGradient>
<linearGradient id="ap4b" class="w" gradientUnits="userSpaceOnUse" x1="0" y1="1251.8" x2="0" y2="1380.4"><stop offset="0" stop-opacity=".84"/><stop offset=".059" stop-opacity=".752"/><stop offset=".118" stop-opacity=".68"/><stop offset=".176" stop-opacity=".617"/><stop offset=".235" stop-opacity=".552"/><stop offset=".294" stop-opacity=".49"/><stop offset=".353" stop-opacity=".43"/><stop offset=".412" stop-opacity=".379"/><stop offset=".471" stop-opacity=".344"/><stop offset=".529" stop-opacity=".321"/><stop offset=".588" stop-opacity=".303"/><stop offset=".647" stop-opacity=".289"/><stop offset=".706" stop-opacity=".28"/><stop offset=".765" stop-opacity=".271"/><stop offset=".824" stop-opacity=".263"/><stop offset=".882" stop-opacity=".254"/><stop offset=".941" stop-opacity=".245"/><stop offset="1" stop-opacity=".238"/></linearGradient>
<mask id="mp4b" maskUnits="userSpaceOnUse" x="591.5" y="1251.8" width="335.5" height="128.6"><rect x="591.5" y="1251.8" width="335.5" height="128.6" fill="url(#ap4b)"/></mask>
<linearGradient id="wp4b" class="w" gradientUnits="userSpaceOnUse" x1="591.5" y1="0" x2="927" y2="0"><stop offset="0" stop-opacity=".064"/><stop offset=".018" stop-opacity=".176"/><stop offset=".036" stop-opacity=".286"/><stop offset=".055" stop-opacity=".394"/><stop offset=".073" stop-opacity=".496"/><stop offset=".091" stop-opacity=".591"/><stop offset=".109" stop-opacity=".679"/><stop offset=".127" stop-opacity=".758"/><stop offset=".145" stop-opacity=".827"/><stop offset=".164" stop-opacity=".885"/><stop offset=".182" stop-opacity=".932"/><stop offset=".2" stop-opacity=".967"/><stop offset=".218" stop-opacity=".99"/><stop offset=".236" stop-opacity="1"/><stop offset=".255" stop-opacity=".996"/><stop offset=".273" stop-opacity=".98"/><stop offset=".291" stop-opacity=".952"/><stop offset=".309" stop-opacity=".911"/><stop offset=".327" stop-opacity=".858"/><stop offset=".345" stop-opacity=".794"/><stop offset=".364" stop-opacity=".72"/><stop offset=".382" stop-opacity=".637"/><stop offset=".4" stop-opacity=".545"/><stop offset=".418" stop-opacity=".446"/><stop offset=".436" stop-opacity=".342"/><stop offset=".455" stop-opacity=".232"/><stop offset=".473" stop-opacity=".121"/><stop offset=".491" stop-opacity=".015"/><stop offset=".509" stop-opacity=".056"/><stop offset=".527" stop-opacity=".167"/><stop offset=".545" stop-opacity=".278"/><stop offset=".564" stop-opacity=".385"/><stop offset=".582" stop-opacity=".488"/><stop offset=".6" stop-opacity=".584"/><stop offset=".618" stop-opacity=".672"/><stop offset=".636" stop-opacity=".752"/><stop offset=".655" stop-opacity=".822"/><stop offset=".673" stop-opacity=".881"/><stop offset=".691" stop-opacity=".929"/><stop offset=".709" stop-opacity=".965"/><stop offset=".727" stop-opacity=".989"/><stop offset=".745" stop-opacity=".999"/><stop offset=".764" stop-opacity=".997"/><stop offset=".782" stop-opacity=".982"/><stop offset=".8" stop-opacity=".954"/><stop offset=".818" stop-opacity=".914"/><stop offset=".836" stop-opacity=".863"/><stop offset=".855" stop-opacity=".8"/><stop offset=".873" stop-opacity=".726"/><stop offset=".891" stop-opacity=".644"/><stop offset=".909" stop-opacity=".553"/><stop offset=".927" stop-opacity=".454"/><stop offset=".945" stop-opacity=".35"/><stop offset=".964" stop-opacity=".241"/><stop offset=".982" stop-opacity=".13"/><stop offset="1" stop-opacity=".022"/></linearGradient>
<g clip-path="url(#cp4b)">
<rect x="591.5" y="1251.8" width="335.5" height="128.6" fill="url(#bp4b)"/>
<rect x="591.5" y="1251.8" width="335.5" height="128.6" fill="url(#wp4b)" mask="url(#mp4b)"/>
</g>
</g>
<clipPath id="kp4"><rect x="591.5" y="1039.2" width="335.5" height="341.2"/></clipPath>
<path clip-path="url(#kp4)" d="M602.5 1061.2L604.1 1061.3L602.8 1060.4zM624.8 1061.1L626.2 1061.9L625.3 1060.5zM647 1061L648 1062.2L647.8 1060.6zM669.4 1060.8L669.8 1062.4L670.2 1060.8zM691.8 1060.6L691.5 1062.2L692.5 1061zM714.2 1060.5L713.4 1061.9L714.8 1061.1zM736.7 1060.4L735.4 1061.3L737 1061.2zM759.3 1060.4L757.7 1060.7L759.2 1061.2zM781.8 1060.4L780.2 1060.1L781.4 1061.2zM804.3 1060.5L803 1059.6L803.7 1061.1zM826.7 1060.7L825.9 1059.3L826 1060.9zM849.1 1060.8L848.9 1059.2L848.3 1060.8zM871.4 1061L871.8 1059.4L870.7 1060.6zM893.7 1061.1L894.7 1059.8L893.2 1060.5zM915.9 1061.2L917.3 1060.4L915.7 1060.4zM602.5 1089.6L604.7 1090L602.8 1088.9zM624.8 1089.6L626.6 1090.8L625.3 1089zM647 1089.4L648.3 1091.3L647.8 1089.1zM669.4 1089.3L669.8 1091.5L670.2 1089.3zM691.8 1089.1L691.3 1091.3L692.5 1089.4zM714.2 1089L712.9 1090.8L714.8 1089.6zM736.7 1088.9L734.9 1090L737 1089.6zM759.3 1088.9L757.1 1089.2L759.2 1089.7zM781.8 1088.9L779.7 1088.3L781.4 1089.6zM804.3 1089L802.6 1087.6L803.7 1089.5zM826.7 1089.1L825.7 1087.1L826 1089.4zM849.1 1089.3L848.9 1087L848.3 1089.2zM871.4 1089.5L872.1 1087.3L870.7 1089.1zM893.7 1089.6L895.1 1087.9L893.2 1089zM915.9 1089.7L917.9 1088.7L915.7 1088.9zM602.5 1118.1L606.1 1119L602.8 1117.4zM624.8 1118.1L627.9 1120.4L625.3 1117.4zM647 1117.9L649.1 1121.6L647.8 1117.6zM669.3 1117.7L669.8 1122.1L670.3 1117.7zM691.7 1117.6L690.5 1121.6L692.6 1117.9zM714.2 1117.4L711.7 1120.4L714.8 1118.1zM736.7 1117.4L733.5 1119L737 1118.1zM759.3 1117.3L755.7 1117.6L759.2 1118.1zM781.8 1117.4L778.3 1116.1L781.4 1118.1zM804.3 1117.5L801.4 1114.7L803.7 1118zM826.8 1117.6L825 1113.7L825.9 1117.9zM849.2 1117.8L849.1 1113.4L848.2 1117.7zM871.5 1118L873.1 1114.1L870.7 1117.5zM893.7 1118.1L896.5 1115.4L893.2 1117.4zM915.9 1118.1L919.3 1116.8L915.7 1117.4zM602.4 1146.8L608.4 1148.3L602.9 1145.6zM624.5 1146.7L629.9 1150.9L625.6 1145.7zM646.6 1146.5L650.4 1153.3L648.2 1145.9zM668.9 1146.2L669.8 1154.3L670.7 1146.2zM691.4 1145.9L689.1 1153.2L692.9 1146.5zM714 1145.7L709.6 1150.9L715 1146.8zM736.7 1145.6L731.2 1148.3L737.1 1146.8zM759.3 1145.6L753.4 1145.9L759.2 1146.9zM781.9 1145.6L776.1 1143.5L781.3 1146.8zM804.6 1145.7L799.4 1140.9L803.4 1146.7zM827.2 1145.9L824 1138.8L825.5 1146.5zM849.6 1146.3L849.5 1138.2L847.8 1146.1zM871.8 1146.6L874.7 1139.7L870.4 1145.8zM893.9 1146.8L898.6 1142.1L893 1145.6zM916 1146.8L921.6 1144.7L915.6 1145.6zM602.4 1175.5L610.5 1177.6L603 1173.8zM624.3 1175.5L632.1 1181.4L625.8 1173.9zM646.3 1175.2L651.9 1185.1L648.6 1174.2zM668.5 1174.7L669.8 1186.8L671.1 1174.7zM691 1174.2L687.7 1185.1L693.3 1175.2zM713.8 1173.9L707.5 1181.4L715.3 1175.5zM736.6 1173.8L729.1 1177.6L737.2 1175.5zM759.3 1173.8L751.3 1174.3L759.2 1175.6zM782 1173.8L773.9 1170.9L781.2 1175.5zM804.8 1174L797.4 1167L803.1 1175.4zM827.6 1174.3L822.8 1163.6L825.1 1175.1zM850 1174.8L849.9 1162.7L847.4 1174.6zM872.1 1175.3L876.4 1165L870 1174.1zM894.1 1175.5L900.8 1168.9L892.8 1173.9zM916 1175.5L923.7 1172.6L915.6 1173.8zM602.4 1203.5L606 1205.6L603 1202.8zM624.5 1203.4L627.6 1208L625.6 1202.9zM646.7 1203.3L648.8 1209.6L648.1 1203zM669 1203.1L669.8 1210.2L670.6 1203.2zM691.4 1203L690.7 1209.6L692.9 1203.3zM714 1202.9L711.9 1208L715 1203.4zM736.6 1202.8L733.5 1205.6L737.2 1203.5zM759.3 1202.8L755.7 1202.8L759.2 1203.5zM782 1202.8L778.4 1200.1L781.3 1203.5zM804.6 1202.9L801.7 1197.8L803.4 1203.4zM827.1 1203L825.3 1196.5L825.6 1203.3zM849.5 1203.2L849.1 1196.2L847.9 1203.1zM871.8 1203.3L872.8 1197L870.4 1203zM893.9 1203.5L896.2 1198.8L893 1202.8zM916 1203.5L919.3 1201.3L915.6 1202.8zM602.4 1231.2L599.2 1234L602.9 1232zM624.5 1231.3L622.4 1236.3L625.6 1231.9zM646.7 1231.5L646 1237.9L648.1 1231.8zM669 1231.6L669.8 1238.4L670.5 1231.6zM691.5 1231.8L693.6 1237.9L692.8 1231.5zM714 1231.9L717.2 1236.3L715 1231.3zM736.6 1232L740.3 1234L737.1 1231.2zM759.3 1232L762.9 1231.3L759.2 1231.2zM781.9 1232L784.9 1228.6L781.3 1231.3zM804.5 1231.9L806.4 1226.5L803.4 1231.4zM827.1 1231.7L827.5 1225.1L825.6 1231.5zM849.5 1231.6L848.4 1224.8L848 1231.7zM871.7 1231.4L869.3 1225.6L870.4 1231.8zM893.9 1231.3L890.6 1227.4L893 1231.9zM916 1231.2L912.3 1229.9L915.6 1232zM601.7 1259.3L595.8 1268.9L603.6 1260.8zM623.5 1259.3L618.2 1274.5L626.6 1260.8zM645.4 1259.6L643.2 1278.8L649.5 1260.6zM667.5 1260.1L669.8 1280.6L672 1260.1zM690 1260.6L696.5 1279.3L694.3 1259.6zM712.8 1260.9L721.8 1275.3L716.2 1259.3zM735.8 1260.9L744.5 1269.8L738 1259.2zM759.8 1260.7L764.9 1255L758.7 1259.5zM782.8 1260.9L789.1 1249.5L780.5 1259.3zM805.7 1260.8L810.6 1244.1L802.2 1259.4zM828.5 1260.5L829.7 1240.5L824.2 1259.7zM851 1260L847.6 1239.6L846.5 1260.2zM873.1 1259.5L865.9 1241.9L869.1 1260.7zM894.9 1259.3L886.1 1246.5L892 1260.9zM916.7 1259.3L908.9 1252.1L914.9 1260.9zM602.1 1288.1L598.4 1294L603.3 1289zM624 1288L620.3 1298.5L626.1 1289.1zM646 1288.2L644.4 1301.9L648.9 1288.9zM668.2 1288.6L669.8 1303.3L671.4 1288.6zM690.6 1288.9L695.3 1302.3L693.7 1288.2zM713.4 1289.1L719.6 1299.1L715.7 1288zM736.2 1289.1L741.8 1294.8L737.6 1288zM759.5 1288.9L762.2 1285.9L759 1288.2zM782.4 1289.1L786.5 1281.7L780.9 1288zM805.2 1289.1L808.6 1277.4L802.8 1288.1zM827.9 1288.8L828.8 1274.5L824.8 1288.3zM850.3 1288.5L847.9 1273.9L847.1 1288.6zM872.5 1288.2L867.4 1275.6L869.7 1289zM894.5 1288L888.4 1279.3L892.4 1289.1zM916.4 1288.1L911.6 1283.7L915.3 1289zM602.2 1316.7L599.3 1321.3L603.2 1317.4zM624.2 1316.6L621.5 1324.5L625.9 1317.4zM646.3 1316.8L645.2 1326.9L648.5 1317.3zM668.6 1317L669.8 1327.9L671 1317zM691 1317.3L694.5 1327.2L693.3 1316.8zM713.6 1317.4L718.3 1324.9L715.4 1316.6zM736.4 1317.5L740.7 1321.9L737.4 1316.6zM759.5 1317.3L761.8 1314.7L759 1316.7zM782.2 1317.4L785.4 1311.7L781 1316.6zM804.9 1317.4L807.4 1308.7L803.1 1316.7zM827.5 1317.2L828.1 1306.7L825.2 1316.8zM849.9 1317L848.1 1306.2L847.5 1317.1zM872.1 1316.7L868.4 1307.4L870 1317.3zM894.2 1316.6L889.6 1310L892.7 1317.4zM916.2 1316.7L912.4 1313.2L915.4 1317.4zM602.2 1345.2L599.5 1349.5L603.1 1345.8zM624.3 1345.1L621.8 1352.3L625.8 1345.9zM646.4 1345.3L645.4 1354.4L648.4 1345.7zM668.7 1345.5L669.8 1355.2L670.9 1345.5zM691.1 1345.7L694.2 1354.6L693.2 1345.3zM713.7 1345.9L717.9 1352.7L715.3 1345.1zM736.4 1345.9L740.4 1350L737.4 1345.1zM759.5 1345.8L761.8 1343.2L759 1345.2zM782.2 1345.9L785.1 1340.6L781.1 1345.1zM804.8 1345.8L807.1 1338L803.2 1345.2zM827.4 1345.7L827.9 1336.2L825.3 1345.3zM849.8 1345.4L848.2 1335.8L847.7 1345.6zM872 1345.2L868.7 1336.9L870.1 1345.8zM894.2 1345.1L890 1339.1L892.7 1345.9zM916.2 1345.1L912.6 1341.9L915.4 1345.9zM602.2 1373.6L599.5 1378.1L603.1 1374.3zM624.3 1373.6L621.9 1380.5L625.8 1374.3zM646.5 1373.8L645.5 1382.4L648.3 1374.2zM668.8 1374L669.8 1383.2L670.8 1374zM691.2 1374.2L694.1 1382.6L693.1 1373.8zM713.8 1374.3L717.8 1380.9L715.3 1373.6zM736.4 1374.4L740.4 1378.5L737.4 1373.6zM759.5 1374.3L762 1371.5L759 1373.7zM782.2 1374.3L785.1 1369.1L781.1 1373.6zM804.8 1374.3L807 1366.7L803.2 1373.6zM827.3 1374.1L827.9 1365.1L825.4 1373.8zM849.7 1373.9L848.2 1364.8L847.7 1374zM872 1373.7L868.8 1365.7L870.2 1374.2zM894.1 1373.6L890.1 1367.8L892.8 1374.3zM916.2 1373.6L912.6 1370.2L915.4 1374.3z" fill="#000"/>
<path d="M591.8 1039.2V1380.4M926.7 1039.2V1380.4" fill="none" stroke="#000" stroke-width="1.3"/>
<path d="M591.5 1181.6H927M591.5 1251.8H927" stroke="#000" stroke-width="1.3" fill="none"/>
<rect x="942.6" y="993" width="257.4" height="46.7" fill="#bfbfbf"/>
<text x="972.0" y="1027.7" font-size="38" text-anchor="start" ><tspan class="i">H</tspan> = 180 nm</text>
<g filter="url(#bwr)">
<clipPath id="cp5t"><rect x="959.9" y="1040.7" width="331.1" height="147.9"/></clipPath>
<linearGradient id="bp5t" gradientUnits="userSpaceOnUse" x1="0" y1="1040.7" x2="0" y2="1188.6"><stop offset="0" stop-color="#0d0d0d"/><stop offset=".059" stop-color="#0d0d0d"/><stop offset=".118" stop-color="#0d0d0d"/><stop offset=".176" stop-color="#0e0e0e"/><stop offset=".235" stop-color="#0f0f0f"/><stop offset=".294" stop-color="#0f0f0f"/><stop offset=".353" stop-color="#101010"/><stop offset=".412" stop-color="#121212"/><stop offset=".471" stop-color="#131313"/><stop offset=".529" stop-color="#151515"/><stop offset=".588" stop-color="#181818"/><stop offset=".647" stop-color="#1c1c1c"/><stop offset=".706" stop-color="#222222"/><stop offset=".765" stop-color="#2b2b2b"/><stop offset=".824" stop-color="#353535"/><stop offset=".882" stop-color="#414141"/><stop offset=".941" stop-color="#4e4e4e"/><stop offset="1" stop-color="#595959"/></linearGradient>
<linearGradient id="ap5t" class="w" gradientUnits="userSpaceOnUse" x1="0" y1="1040.7" x2="0" y2="1188.6"><stop offset="0" stop-opacity="0"/><stop offset=".059" stop-opacity="0"/><stop offset=".118" stop-opacity="0"/><stop offset=".176" stop-opacity="0"/><stop offset=".235" stop-opacity="0"/><stop offset=".294" stop-opacity="0"/><stop offset=".353" stop-opacity="0"/><stop offset=".412" stop-opacity=".001"/><stop offset=".471" stop-opacity=".008"/><stop offset=".529" stop-opacity=".018"/><stop offset=".588" stop-opacity=".031"/><stop offset=".647" stop-opacity=".049"/><stop offset=".706" stop-opacity=".069"/><stop offset=".765" stop-opacity=".091"/><stop offset=".824" stop-opacity=".121"/><stop offset=".882" stop-opacity=".145"/><stop offset=".941" stop-opacity=".145"/><stop offset="1" stop-opacity=".167"/></linearGradient>
<mask id="mp5t" maskUnits="userSpaceOnUse" x="959.9" y="1040.7" width="331.1" height="147.9"><rect x="959.9" y="1040.7" width="331.1" height="147.9" fill="url(#ap5t)"/></mask>
<linearGradient id="wp5t" class="w" gradientUnits="userSpaceOnUse" x1="959.9" y1="0" x2="1291" y2="0"><stop offset="0" stop-opacity=".028"/><stop offset=".018" stop-opacity=".074"/><stop offset=".036" stop-opacity=".141"/><stop offset=".055" stop-opacity=".224"/><stop offset=".073" stop-opacity=".32"/><stop offset=".091" stop-opacity=".425"/><stop offset=".109" stop-opacity=".533"/><stop offset=".127" stop-opacity=".64"/><stop offset=".145" stop-opacity=".74"/><stop offset=".164" stop-opacity=".829"/><stop offset=".182" stop-opacity=".902"/><stop offset=".2" stop-opacity=".957"/><stop offset=".218" stop-opacity=".99"/><stop offset=".236" stop-opacity="1"/><stop offset=".255" stop-opacity=".986"/><stop offset=".273" stop-opacity=".95"/><stop offset=".291" stop-opacity=".893"/><stop offset=".309" stop-opacity=".817"/><stop offset=".327" stop-opacity=".726"/><stop offset=".345" stop-opacity=".624"/><stop offset=".364" stop-opacity=".517"/><stop offset=".382" stop-opacity=".409"/><stop offset=".4" stop-opacity=".305"/><stop offset=".418" stop-opacity=".211"/><stop offset=".436" stop-opacity=".13"/><stop offset=".455" stop-opacity=".066"/><stop offset=".473" stop-opacity=".023"/><stop offset=".491" stop-opacity=".002"/><stop offset=".509" stop-opacity=".004"/><stop offset=".527" stop-opacity=".03"/><stop offset=".545" stop-opacity=".078"/><stop offset=".564" stop-opacity=".146"/><stop offset=".582" stop-opacity=".23"/><stop offset=".6" stop-opacity=".327"/><stop offset=".618" stop-opacity=".433"/><stop offset=".636" stop-opacity=".541"/><stop offset=".655" stop-opacity=".647"/><stop offset=".673" stop-opacity=".747"/><stop offset=".691" stop-opacity=".835"/><stop offset=".709" stop-opacity=".907"/><stop offset=".727" stop-opacity=".96"/><stop offset=".745" stop-opacity=".991"/><stop offset=".764" stop-opacity="1"/><stop offset=".782" stop-opacity=".985"/><stop offset=".8" stop-opacity=".947"/><stop offset=".818" stop-opacity=".888"/><stop offset=".836" stop-opacity=".811"/><stop offset=".855" stop-opacity=".719"/><stop offset=".873" stop-opacity=".617"/><stop offset=".891" stop-opacity=".51"/><stop offset=".909" stop-opacity=".402"/><stop offset=".927" stop-opacity=".298"/><stop offset=".945" stop-opacity=".204"/><stop offset=".964" stop-opacity=".124"/><stop offset=".982" stop-opacity=".062"/><stop offset="1" stop-opacity=".02"/></linearGradient>
<g clip-path="url(#cp5t)">
<rect x="959.9" y="1040.7" width="331.1" height="147.9" fill="url(#bp5t)"/>
<rect x="959.9" y="1040.7" width="331.1" height="147.9" fill="url(#wp5t)" mask="url(#mp5t)"/>
</g>
<clipPath id="cp5s"><rect x="959.9" y="1188.6" width="331.1" height="54.8"/></clipPath>
<linearGradient id="bp5s" gradientUnits="userSpaceOnUse" x1="0" y1="1188.6" x2="0" y2="1243.4"><stop offset="0" stop-color="#404040"/><stop offset=".048" stop-color="#404040"/><stop offset=".095" stop-color="#404040"/><stop offset=".143" stop-color="#3f3f3f"/><stop offset=".19" stop-color="#3f3f3f"/><stop offset=".238" stop-color="#3f3f3f"/><stop offset=".286" stop-color="#3f3f3f"/><stop offset=".333" stop-color="#3f3f3f"/><stop offset=".381" stop-color="#3f3f3f"/><stop offset=".429" stop-color="#3f3f3f"/><stop offset=".476" stop-color="#3f3f3f"/><stop offset=".524" stop-color="#3f3f3f"/><stop offset=".571" stop-color="#3f3f3f"/><stop offset=".619" stop-color="#3e3e3e"/><stop offset=".667" stop-color="#3e3e3e"/><stop offset=".714" stop-color="#3e3e3e"/><stop offset=".762" stop-color="#3e3e3e"/><stop offset=".81" stop-color="#3e3e3e"/><stop offset=".857" stop-color="#3e3e3e"/><stop offset=".905" stop-color="#3e3e3e"/><stop offset=".952" stop-color="#3e3e3e"/><stop offset="1" stop-color="#3e3e3e"/></linearGradient>
<g clip-path="url(#cp5s)">
<rect x="959.9" y="1188.6" width="331.1" height="54.8" fill="url(#bp5s)"/>
<ellipse cx="1124.9" cy="1191.6" rx="120" ry="18" fill="url(#gW)" opacity=".17"/>
<ellipse cx="959.9" cy="1191.6" rx="105" ry="18" fill="url(#gW)" opacity=".19"/>
<ellipse cx="1291" cy="1191.6" rx="105" ry="18" fill="url(#gW)" opacity=".19"/>
<ellipse cx="1037.9" cy="1192.6" rx="54" ry="15" fill="url(#gK)" opacity=".4"/>
<ellipse cx="1211.9" cy="1192.6" rx="54" ry="15" fill="url(#gK)" opacity=".4"/>
<ellipse cx="1124.9" cy="1227.1" rx="72" ry="21" fill="url(#gK)" opacity=".9"/>
<ellipse cx="959.9" cy="1226.6" rx="66" ry="21" fill="url(#gK)" opacity=".9"/>
<ellipse cx="1291" cy="1226.6" rx="66" ry="21" fill="url(#gK)" opacity=".9"/>
<ellipse cx="1039.9" cy="1238.6" rx="75" ry="15" fill="url(#gK)" opacity=".17"/>
<ellipse cx="1211.9" cy="1238.6" rx="75" ry="15" fill="url(#gK)" opacity=".27"/>
</g>
<clipPath id="cp5b"><rect x="959.9" y="1243.4" width="331.1" height="138.2"/></clipPath>
<linearGradient id="bp5b" gradientUnits="userSpaceOnUse" x1="0" y1="1243.4" x2="0" y2="1381.6"><stop offset="0" stop-color="#2b2b2b"/><stop offset=".059" stop-color="#222222"/><stop offset=".118" stop-color="#1b1b1b"/><stop offset=".176" stop-color="#151515"/><stop offset=".235" stop-color="#111111"/><stop offset=".294" stop-color="#0f0f0f"/><stop offset=".353" stop-color="#0f0f0f"/><stop offset=".412" stop-color="#0f0f0f"/><stop offset=".471" stop-color="#0f0f0f"/><stop offset=".529" stop-color="#0f0f0f"/><stop offset=".588" stop-color="#0f0f0f"/><stop offset=".647" stop-color="#0f0f0f"/><stop offset=".706" stop-color="#0f0f0f"/><stop offset=".765" stop-color="#0f0f0f"/><stop offset=".824" stop-color="#0f0f0f"/><stop offset=".882" stop-color="#0f0f0f"/><stop offset=".941" stop-color="#0f0f0f"/><stop offset="1" stop-color="#0f0f0f"/></linearGradient>
<linearGradient id="ap5b" class="w" gradientUnits="userSpaceOnUse" x1="0" y1="1243.4" x2="0" y2="1381.6"><stop offset="0" stop-opacity=".95"/><stop offset=".059" stop-opacity=".855"/><stop offset=".118" stop-opacity=".774"/><stop offset=".176" stop-opacity=".711"/><stop offset=".235" stop-opacity=".665"/><stop offset=".294" stop-opacity=".626"/><stop offset=".353" stop-opacity=".59"/><stop offset=".412" stop-opacity=".56"/><stop offset=".471" stop-opacity=".536"/><stop offset=".529" stop-opacity=".517"/><stop offset=".588" stop-opacity=".5"/><stop offset=".647" stop-opacity=".486"/><stop offset=".706" stop-opacity=".473"/><stop offset=".765" stop-opacity=".46"/><stop offset=".824" stop-opacity=".448"/><stop offset=".882" stop-opacity=".437"/><stop offset=".941" stop-opacity=".426"/><stop offset="1" stop-opacity=".417"/></linearGradient>
<mask id="mp5b" maskUnits="userSpaceOnUse" x="959.9" y="1243.4" width="331.1" height="138.2"><rect x="959.9" y="1243.4" width="331.1" height="138.2" fill="url(#ap5b)"/></mask>
<linearGradient id="wp5b" class="w" gradientUnits="userSpaceOnUse" x1="959.9" y1="0" x2="1291" y2="0"><stop offset="0" stop-opacity=".034"/><stop offset=".018" stop-opacity=".11"/><stop offset=".036" stop-opacity=".202"/><stop offset=".055" stop-opacity=".302"/><stop offset=".073" stop-opacity=".404"/><stop offset=".091" stop-opacity=".506"/><stop offset=".109" stop-opacity=".604"/><stop offset=".127" stop-opacity=".696"/><stop offset=".145" stop-opacity=".779"/><stop offset=".164" stop-opacity=".851"/><stop offset=".182" stop-opacity=".91"/><stop offset=".2" stop-opacity=".955"/><stop offset=".218" stop-opacity=".985"/><stop offset=".236" stop-opacity=".999"/><stop offset=".255" stop-opacity=".997"/><stop offset=".273" stop-opacity=".978"/><stop offset=".291" stop-opacity=".944"/><stop offset=".309" stop-opacity=".895"/><stop offset=".327" stop-opacity=".832"/><stop offset=".345" stop-opacity=".757"/><stop offset=".364" stop-opacity=".672"/><stop offset=".382" stop-opacity=".578"/><stop offset=".4" stop-opacity=".479"/><stop offset=".418" stop-opacity=".376"/><stop offset=".436" stop-opacity=".274"/><stop offset=".455" stop-opacity=".176"/><stop offset=".473" stop-opacity=".088"/><stop offset=".491" stop-opacity=".018"/><stop offset=".509" stop-opacity=".007"/><stop offset=".527" stop-opacity=".07"/><stop offset=".545" stop-opacity=".156"/><stop offset=".564" stop-opacity=".252"/><stop offset=".582" stop-opacity=".354"/><stop offset=".6" stop-opacity=".456"/><stop offset=".618" stop-opacity=".557"/><stop offset=".636" stop-opacity=".652"/><stop offset=".655" stop-opacity=".739"/><stop offset=".673" stop-opacity=".817"/><stop offset=".691" stop-opacity=".883"/><stop offset=".709" stop-opacity=".935"/><stop offset=".727" stop-opacity=".972"/><stop offset=".745" stop-opacity=".994"/><stop offset=".764" stop-opacity="1"/><stop offset=".782" stop-opacity=".989"/><stop offset=".8" stop-opacity=".963"/><stop offset=".818" stop-opacity=".921"/><stop offset=".836" stop-opacity=".865"/><stop offset=".855" stop-opacity=".796"/><stop offset=".873" stop-opacity=".715"/><stop offset=".891" stop-opacity=".625"/><stop offset=".909" stop-opacity=".528"/><stop offset=".927" stop-opacity=".427"/><stop offset=".945" stop-opacity=".324"/><stop offset=".964" stop-opacity=".224"/><stop offset=".982" stop-opacity=".13"/><stop offset="1" stop-opacity=".049"/></linearGradient>
<g clip-path="url(#cp5b)">
<rect x="959.9" y="1243.4" width="331.1" height="138.2" fill="url(#bp5b)"/>
<rect x="959.9" y="1243.4" width="331.1" height="138.2" fill="url(#wp5b)" mask="url(#mp5b)"/>
</g>
</g>
<clipPath id="kp5"><rect x="959.9" y="1040.7" width="331.1" height="340.9"/></clipPath>
<path clip-path="url(#kp5)" d="M970.8 1066.8L972.6 1067L971.1 1066zM992.7 1066.7L994.3 1067.6L993.3 1066.1zM1014.7 1066.6L1015.8 1068L1015.5 1066.2zM1036.8 1066.4L1037.2 1068.2L1037.6 1066.4zM1058.9 1066.2L1058.6 1068.1L1059.6 1066.6zM1081 1066.1L1080 1067.7L1081.6 1066.7zM1103.2 1066L1101.7 1067.1L1103.5 1066.8zM1125.5 1066L1123.7 1066.4L1125.4 1066.8zM1147.7 1066L1145.9 1065.7L1147.4 1066.8zM1169.9 1066.1L1168.4 1065.1L1169.3 1066.7zM1192 1066.3L1191 1064.7L1191.3 1066.5zM1214.1 1066.4L1213.8 1064.6L1213.3 1066.4zM1236.2 1066.6L1236.6 1064.8L1235.5 1066.2zM1258.2 1066.7L1259.2 1065.2L1257.6 1066.1zM1280.1 1066.8L1281.7 1065.8L1279.8 1066zM970.8 1094L972.9 1094.4L971.1 1093.3zM992.7 1094L994.5 1095.1L993.3 1093.4zM1014.7 1093.8L1015.9 1095.6L1015.5 1093.5zM1036.8 1093.7L1037.2 1095.8L1037.6 1093.7zM1058.9 1093.5L1058.4 1095.6L1059.6 1093.8zM1081 1093.4L1079.8 1095.2L1081.6 1094zM1103.2 1093.3L1101.4 1094.5L1103.5 1094zM1125.5 1093.3L1123.3 1093.6L1125.4 1094.1zM1147.7 1093.3L1145.6 1092.8L1147.4 1094zM1169.9 1093.4L1168.1 1092.1L1169.3 1093.9zM1192 1093.5L1190.9 1091.7L1191.3 1093.8zM1214.1 1093.7L1213.8 1091.6L1213.3 1093.7zM1236.2 1093.8L1236.7 1091.8L1235.5 1093.5zM1258.2 1094L1259.4 1092.2L1257.6 1093.4zM1280.1 1094L1282 1093L1279.8 1093.3zM970.8 1121.3L973.5 1121.9L971.1 1120.6zM992.7 1121.2L995.2 1123L993.3 1120.7zM1014.7 1121.1L1016.3 1123.9L1015.5 1120.8zM1036.8 1120.9L1037.2 1124.2L1037.6 1120.9zM1058.9 1120.8L1058 1123.9L1059.6 1121.1zM1081 1120.7L1079.2 1123.1L1081.6 1121.2zM1103.2 1120.6L1100.8 1122L1103.5 1121.3zM1125.5 1120.5L1122.7 1120.9L1125.4 1121.3zM1147.7 1120.6L1144.9 1119.8L1147.4 1121.3zM1169.9 1120.7L1167.5 1118.8L1169.3 1121.2zM1192 1120.8L1190.5 1118L1191.3 1121.1zM1214.1 1121L1213.9 1117.7L1213.3 1120.9zM1236.2 1121.1L1237.1 1118.1L1235.5 1120.8zM1258.2 1121.2L1260.1 1118.9L1257.6 1120.6zM1280.1 1121.3L1282.6 1120L1279.8 1120.6zM970.8 1148.7L975.2 1149.8L971.1 1147.7zM992.6 1148.6L996.8 1151.8L993.4 1147.8zM1014.5 1148.5L1017.4 1153.5L1015.7 1148zM1036.5 1148.2L1037.2 1154.3L1037.8 1148.2zM1058.6 1148L1057 1153.6L1059.8 1148.5zM1080.9 1147.8L1077.6 1151.9L1081.7 1148.6zM1103.2 1147.7L1099.1 1149.9L1103.6 1148.7zM1125.5 1147.7L1121.1 1148.2L1125.4 1148.7zM1147.7 1147.7L1143.3 1146.4L1147.3 1148.7zM1170 1147.8L1166 1144.4L1169.2 1148.6zM1192.3 1148L1189.6 1142.7L1191.1 1148.4zM1214.4 1148.2L1213.9 1142.1L1213.1 1148.2zM1236.4 1148.5L1238.2 1143L1235.2 1147.9zM1258.3 1148.6L1261.7 1144.7L1257.5 1147.8zM1280.1 1148.7L1284.2 1146.7L1279.8 1147.7zM970.6 1176.3L978.6 1178.4L971.3 1174.6zM992.3 1176.2L999.6 1181.8L993.7 1174.8zM1014.1 1175.9L1019.1 1184.8L1016.1 1175zM1036 1175.5L1037.3 1186L1038.3 1175.5zM1058.2 1175.1L1055.4 1184.9L1060.3 1175.9zM1080.6 1174.8L1074.8 1182L1082 1176.2zM1103 1174.6L1095.7 1178.6L1103.7 1176.3zM1125.5 1174.6L1117.6 1175.4L1125.4 1176.3zM1147.9 1174.6L1139.9 1172.2L1147.2 1176.3zM1170.3 1174.8L1163.2 1168.8L1168.9 1176.2zM1192.7 1175.1L1188 1165.9L1190.6 1175.9zM1214.9 1175.5L1214.1 1164.9L1212.6 1175.4zM1236.8 1175.9L1240 1166.3L1234.8 1175zM1258.6 1176.2L1264.6 1169.3L1257.2 1174.7zM1280.3 1176.3L1287.7 1172.7L1279.7 1174.6zM970.7 1203.2L974.6 1205.1L971.2 1202.3zM992.5 1203.1L995.8 1207.2L993.5 1202.4zM1014.4 1202.9L1016.6 1208.7L1015.7 1202.6zM1036.4 1202.8L1037.2 1209.2L1037.9 1202.7zM1058.6 1202.6L1057.8 1208.7L1059.9 1202.9zM1080.8 1202.4L1078.5 1207.3L1081.8 1203.1zM1103.1 1202.4L1099.8 1205.2L1103.6 1203.1zM1125.5 1202.3L1121.5 1202.7L1125.4 1203.2zM1147.8 1202.4L1143.9 1200.2L1147.2 1203.1zM1170.1 1202.5L1166.9 1198.1L1169.1 1203zM1192.3 1202.6L1190.3 1196.7L1191 1202.9zM1214.5 1202.8L1213.9 1196.3L1213 1202.7zM1236.5 1202.9L1237.5 1196.9L1235.2 1202.6zM1258.4 1203.1L1260.8 1198.4L1257.4 1202.4zM1280.2 1203.2L1283.6 1200.6L1279.7 1202.3zM970.7 1229.6L967.2 1232.3L971.2 1230.4zM992.5 1229.7L990.1 1234.4L993.5 1230.3zM1014.4 1229.8L1013.5 1235.8L1015.7 1230.2zM1036.5 1230L1037.1 1236.3L1037.8 1230zM1058.6 1230.2L1060.8 1235.8L1059.9 1229.9zM1080.8 1230.3L1084.2 1234.5L1081.8 1229.7zM1103.1 1230.4L1107.1 1232.4L1103.6 1229.6zM1125.5 1230.5L1129.5 1229.9L1125.4 1229.6zM1147.8 1230.4L1151.2 1227.5L1147.2 1229.6zM1170.1 1230.3L1172.4 1225.5L1169.1 1229.7zM1192.3 1230.2L1193.1 1224.1L1191 1229.9zM1214.4 1230L1213.6 1223.7L1213.1 1230zM1236.4 1229.8L1234.1 1224.3L1235.2 1230.2zM1258.4 1229.7L1254.9 1225.8L1257.4 1230.3zM1280.2 1229.6L1276.2 1227.9L1279.7 1230.4zM970.3 1256.9L967.7 1263.4L971.6 1257.6zM991.6 1256.8L988.8 1270L994.4 1257.8zM1013.1 1257L1012.1 1275.5L1017.1 1257.6zM1034.9 1257.3L1037.1 1277.9L1039.4 1257.3zM1057.1 1257.6L1062.2 1276.5L1061.3 1257zM1079.7 1257.8L1086 1271.6L1082.9 1256.8zM1102.5 1257.7L1107.4 1265.1L1104.2 1256.8zM1125.8 1257.5L1127.5 1254.5L1125.1 1257.1zM1148.4 1257.7L1151.3 1249.8L1146.7 1256.9zM1171.1 1257.8L1174 1243.2L1168.1 1256.8zM1193.8 1257.6L1194.5 1238.3L1189.6 1257zM1216 1257.3L1213.5 1236.6L1211.5 1257.3zM1237.8 1256.9L1232.6 1238.9L1233.8 1257.6zM1259.3 1256.8L1253.4 1244.3L1256.5 1257.8zM1280.7 1256.9L1276.5 1250.8L1279.3 1257.7zM970.5 1284.3L968.6 1289L971.4 1284.8zM991.9 1284.2L989.7 1294.5L994.1 1284.9zM1013.5 1284.3L1012.7 1299.1L1016.7 1284.8zM1035.3 1284.6L1037.1 1301.2L1039 1284.6zM1057.5 1284.8L1061.6 1300L1060.9 1284.3zM1080.1 1285L1085 1295.9L1082.5 1284.2zM1102.7 1284.9L1106.4 1290.4L1104 1284.2zM1125.8 1284.8L1126.6 1283L1125.1 1284.3zM1148.1 1284.9L1150.3 1279L1146.9 1284.3zM1170.8 1284.9L1173.1 1273.5L1168.4 1284.2zM1193.4 1284.8L1193.9 1269.3L1190 1284.3zM1215.6 1284.5L1213.5 1267.9L1211.9 1284.6zM1237.4 1284.3L1233.2 1269.8L1234.2 1284.8zM1259 1284.2L1254.4 1274.4L1256.8 1284.9zM1280.5 1284.3L1277.5 1279.9L1279.5 1284.8zM970.5 1311.6L968.8 1315.8L971.4 1312.1zM992 1311.5L990.1 1320.6L994 1312.2zM1013.7 1311.6L1013 1324.6L1016.5 1312.1zM1035.6 1311.8L1037.1 1326.4L1038.8 1311.8zM1057.7 1312.1L1061.3 1325.3L1060.7 1311.6zM1080.2 1312.2L1084.5 1321.8L1082.4 1311.5zM1102.8 1312.1L1106.1 1317.1L1104 1311.5zM1125.8 1312.1L1126.6 1310.3L1125.1 1311.6zM1148.1 1312.1L1150 1306.8L1147 1311.6zM1170.7 1312.2L1172.7 1302.1L1168.5 1311.5zM1193.1 1312L1193.6 1298.5L1190.2 1311.6zM1215.3 1311.8L1213.5 1297.3L1212.1 1311.9zM1237.2 1311.6L1233.6 1298.9L1234.4 1312.1zM1258.9 1311.5L1254.8 1302.9L1256.9 1312.2zM1280.4 1311.6L1277.7 1307.6L1279.5 1312.1zM970.5 1338.9L969 1342.9L971.4 1339.3zM992.1 1338.8L990.3 1347.2L993.9 1339.4zM1013.8 1338.9L1013.1 1350.9L1016.4 1339.3zM1035.7 1339.1L1037.1 1352.5L1038.6 1339.1zM1057.9 1339.3L1061.2 1351.5L1060.6 1338.9zM1080.3 1339.4L1084.3 1348.3L1082.3 1338.8zM1102.8 1339.4L1105.9 1344L1103.9 1338.8zM1125.8 1339.3L1126.6 1337.5L1125.1 1338.9zM1148 1339.4L1149.9 1334.4L1147 1338.8zM1170.6 1339.4L1172.4 1330.1L1168.6 1338.8zM1193 1339.3L1193.5 1326.8L1190.3 1338.9zM1215.2 1339.1L1213.6 1325.7L1212.3 1339.1zM1237.1 1338.9L1233.7 1327.2L1234.5 1339.3zM1258.8 1338.8L1255 1330.8L1257 1339.4zM1280.4 1338.9L1277.8 1335.1L1279.5 1339.3zM970.5 1366.2L969.1 1370L971.3 1366.6zM992.2 1366.1L990.5 1374L993.8 1366.6zM1013.9 1366.2L1013.3 1377.3L1016.3 1366.6zM1035.8 1366.4L1037.1 1378.8L1038.5 1366.4zM1058 1366.6L1061 1378L1060.5 1366.2zM1080.4 1366.7L1084.1 1375L1082.3 1366.1zM1102.9 1366.6L1105.8 1371L1103.9 1366.1zM1125.8 1366.6L1126.6 1364.8L1125.1 1366.1zM1148 1366.6L1149.8 1361.9L1147 1366.1zM1170.5 1366.7L1172.3 1357.9L1168.7 1366.1zM1192.9 1366.6L1193.4 1354.9L1190.4 1366.2zM1215.1 1366.4L1213.6 1353.9L1212.4 1366.4zM1237 1366.2L1233.9 1355.3L1234.6 1366.6zM1258.7 1366.1L1255.2 1358.6L1257 1366.7zM1280.4 1366.1L1277.9 1362.6L1279.5 1366.6z" fill="#000"/>
<path d="M960.2 1040.7V1381.6M1290.7 1040.7V1381.6" fill="none" stroke="#000" stroke-width="1.3"/>
<path d="M959.9 1188.6H1291M959.9 1243.4H1291" stroke="#000" stroke-width="1.3" fill="none"/>
<rect x="1308.6" y="993" width="257.8" height="46.8" fill="#bfbfbf"/>
<text x="1338.0" y="1027.7" font-size="38" text-anchor="start" ><tspan class="i">R</tspan> = 210 nm</text>
<g filter="url(#bwr)">
<clipPath id="cp6t"><rect x="1315.9" y="1040.6" width="329.1" height="144.4"/></clipPath>
<linearGradient id="bp6t" gradientUnits="userSpaceOnUse" x1="0" y1="1040.6" x2="0" y2="1185"><stop offset="0" stop-color="#0b0b0b"/><stop offset=".059" stop-color="#0b0b0b"/><stop offset=".118" stop-color="#0b0b0b"/><stop offset=".176" stop-color="#0c0c0c"/><stop offset=".235" stop-color="#0c0c0c"/><stop offset=".294" stop-color="#0d0d0d"/><stop offset=".353" stop-color="#0e0e0e"/><stop offset=".412" stop-color="#0f0f0f"/><stop offset=".471" stop-color="#111111"/><stop offset=".529" stop-color="#141414"/><stop offset=".588" stop-color="#181818"/><stop offset=".647" stop-color="#1c1c1c"/><stop offset=".706" stop-color="#222222"/><stop offset=".765" stop-color="#292929"/><stop offset=".824" stop-color="#313131"/><stop offset=".882" stop-color="#3c3c3c"/><stop offset=".941" stop-color="#494949"/><stop offset="1" stop-color="#555555"/></linearGradient>
<linearGradient id="ap6t" class="w" gradientUnits="userSpaceOnUse" x1="0" y1="1040.6" x2="0" y2="1185"><stop offset="0" stop-opacity="0"/><stop offset=".059" stop-opacity="0"/><stop offset=".118" stop-opacity=".001"/><stop offset=".176" stop-opacity=".002"/><stop offset=".235" stop-opacity=".004"/><stop offset=".294" stop-opacity=".005"/><stop offset=".353" stop-opacity=".007"/><stop offset=".412" stop-opacity=".01"/><stop offset=".471" stop-opacity=".014"/><stop offset=".529" stop-opacity=".02"/><stop offset=".588" stop-opacity=".028"/><stop offset=".647" stop-opacity=".042"/><stop offset=".706" stop-opacity=".057"/><stop offset=".765" stop-opacity=".077"/><stop offset=".824" stop-opacity=".105"/><stop offset=".882" stop-opacity=".138"/><stop offset=".941" stop-opacity=".154"/><stop offset="1" stop-opacity=".15"/></linearGradient>
<mask id="mp6t" maskUnits="userSpaceOnUse" x="1315.9" y="1040.6" width="329.1" height="144.4"><rect x="1315.9" y="1040.6" width="329.1" height="144.4" fill="url(#ap6t)"/></mask>
<linearGradient id="wp6t" class="w" gradientUnits="userSpaceOnUse" x1="1315.9" y1="0" x2="1645" y2="0"><stop offset="0" stop-opacity=".016"/><stop offset=".018" stop-opacity=".055"/><stop offset=".036" stop-opacity=".115"/><stop offset=".055" stop-opacity=".194"/><stop offset=".073" stop-opacity=".288"/><stop offset=".091" stop-opacity=".392"/><stop offset=".109" stop-opacity=".501"/><stop offset=".127" stop-opacity=".61"/><stop offset=".145" stop-opacity=".713"/><stop offset=".164" stop-opacity=".807"/><stop offset=".182" stop-opacity=".885"/><stop offset=".2" stop-opacity=".946"/><stop offset=".218" stop-opacity=".984"/><stop offset=".236" stop-opacity="1"/><stop offset=".255" stop-opacity=".991"/><stop offset=".273" stop-opacity=".959"/><stop offset=".291" stop-opacity=".905"/><stop offset=".309" stop-opacity=".831"/><stop offset=".327" stop-opacity=".742"/><stop offset=".345" stop-opacity=".64"/><stop offset=".364" stop-opacity=".532"/><stop offset=".382" stop-opacity=".423"/><stop offset=".4" stop-opacity=".317"/><stop offset=".418" stop-opacity=".22"/><stop offset=".436" stop-opacity=".136"/><stop offset=".455" stop-opacity=".07"/><stop offset=".473" stop-opacity=".025"/><stop offset=".491" stop-opacity=".002"/><stop offset=".509" stop-opacity=".004"/><stop offset=".527" stop-opacity=".029"/><stop offset=".545" stop-opacity=".077"/><stop offset=".564" stop-opacity=".145"/><stop offset=".582" stop-opacity=".23"/><stop offset=".6" stop-opacity=".328"/><stop offset=".618" stop-opacity=".435"/><stop offset=".636" stop-opacity=".544"/><stop offset=".655" stop-opacity=".652"/><stop offset=".673" stop-opacity=".752"/><stop offset=".691" stop-opacity=".84"/><stop offset=".709" stop-opacity=".912"/><stop offset=".727" stop-opacity=".964"/><stop offset=".745" stop-opacity=".993"/><stop offset=".764" stop-opacity=".999"/><stop offset=".782" stop-opacity=".981"/><stop offset=".8" stop-opacity=".94"/><stop offset=".818" stop-opacity=".878"/><stop offset=".836" stop-opacity=".797"/><stop offset=".855" stop-opacity=".702"/><stop offset=".873" stop-opacity=".598"/><stop offset=".891" stop-opacity=".488"/><stop offset=".909" stop-opacity=".38"/><stop offset=".927" stop-opacity=".277"/><stop offset=".945" stop-opacity=".185"/><stop offset=".964" stop-opacity=".108"/><stop offset=".982" stop-opacity=".05"/><stop offset="1" stop-opacity=".013"/></linearGradient>
<g clip-path="url(#cp6t)">
<rect x="1315.9" y="1040.6" width="329.1" height="144.4" fill="url(#bp6t)"/>
<rect x="1315.9" y="1040.6" width="329.1" height="144.4" fill="url(#wp6t)" mask="url(#mp6t)"/>
</g>
<clipPath id="cp6s"><rect x="1315.9" y="1185" width="329.1" height="66.8"/></clipPath>
<linearGradient id="bp6s" gradientUnits="userSpaceOnUse" x1="0" y1="1185" x2="0" y2="1251.8"><stop offset="0" stop-color="#3c3c3c"/><stop offset=".048" stop-color="#3c3c3c"/><stop offset=".095" stop-color="#3c3c3c"/><stop offset=".143" stop-color="#3c3c3c"/><stop offset=".19" stop-color="#3c3c3c"/><stop offset=".238" stop-color="#3c3c3c"/><stop offset=".286" stop-color="#3c3c3c"/><stop offset=".333" stop-color="#3c3c3c"/><stop offset=".381" stop-color="#3c3c3c"/><stop offset=".429" stop-color="#3c3c3c"/><stop offset=".476" stop-color="#3c3c3c"/><stop offset=".524" stop-color="#3c3c3c"/><stop offset=".571" stop-color="#3c3c3c"/><stop offset=".619" stop-color="#3c3c3c"/><stop offset=".667" stop-color="#3c3c3c"/><stop offset=".714" stop-color="#3c3c3c"/><stop offset=".762" stop-color="#3c3c3c"/><stop offset=".81" stop-color="#3c3c3c"/><stop offset=".857" stop-color="#3c3c3c"/><stop offset=".905" stop-color="#3c3c3c"/><stop offset=".952" stop-color="#3c3c3c"/><stop offset="1" stop-color="#3c3c3c"/></linearGradient>
<g clip-path="url(#cp6s)">
<rect x="1315.9" y="1185" width="329.1" height="66.8" fill="url(#bp6s)"/>
<ellipse cx="1478.9" cy="1188.5" rx="114" ry="18" fill="url(#gW)" opacity=".15"/>
<ellipse cx="1315.9" cy="1188.5" rx="90" ry="18" fill="url(#gW)" opacity=".17"/>
<ellipse cx="1645" cy="1188.5" rx="90" ry="18" fill="url(#gW)" opacity=".17"/>
<ellipse cx="1391.9" cy="1221" rx="96" ry="33" fill="url(#gW)" opacity=".06"/>
<ellipse cx="1579.9" cy="1224" rx="96" ry="33" fill="url(#gW)" opacity=".09"/>
<ellipse cx="1399.9" cy="1188.5" rx="54" ry="16.5" fill="url(#gK)" opacity=".7"/>
<ellipse cx="1565.9" cy="1188" rx="54" ry="16.5" fill="url(#gK)" opacity=".7"/>
<ellipse cx="1478.9" cy="1229" rx="66" ry="24" fill="url(#gK)" opacity=".93"/>
<ellipse cx="1315.9" cy="1228" rx="60" ry="24" fill="url(#gK)" opacity=".93"/>
<ellipse cx="1645" cy="1226" rx="60" ry="24" fill="url(#gK)" opacity=".93"/>
<ellipse cx="1394.9" cy="1249" rx="60" ry="15" fill="url(#gK)" opacity=".28"/>
<ellipse cx="1565.9" cy="1249" rx="60" ry="15" fill="url(#gK)" opacity=".46"/>
</g>
<clipPath id="cp6b"><rect x="1315.9" y="1251.8" width="329.1" height="129.8"/></clipPath>
<linearGradient id="bp6b" gradientUnits="userSpaceOnUse" x1="0" y1="1251.8" x2="0" y2="1381.6"><stop offset="0" stop-color="#2b2b2b"/><stop offset=".059" stop-color="#212121"/><stop offset=".118" stop-color="#181818"/><stop offset=".176" stop-color="#141414"/><stop offset=".235" stop-color="#111111"/><stop offset=".294" stop-color="#0e0e0e"/><stop offset=".353" stop-color="#0c0c0c"/><stop offset=".412" stop-color="#0b0b0b"/><stop offset=".471" stop-color="#0b0b0b"/><stop offset=".529" stop-color="#0b0b0b"/><stop offset=".588" stop-color="#0b0b0b"/><stop offset=".647" stop-color="#0b0b0b"/><stop offset=".706" stop-color="#0b0b0b"/><stop offset=".765" stop-color="#0b0b0b"/><stop offset=".824" stop-color="#0b0b0b"/><stop offset=".882" stop-color="#0c0c0c"/><stop offset=".941" stop-color="#0c0c0c"/><stop offset="1" stop-color="#0d0d0d"/></linearGradient>
<linearGradient id="ap6b" class="w" gradientUnits="userSpaceOnUse" x1="0" y1="1251.8" x2="0" y2="1381.6"><stop offset="0" stop-opacity=".92"/><stop offset=".059" stop-opacity=".815"/><stop offset=".118" stop-opacity=".724"/><stop offset=".176" stop-opacity=".644"/><stop offset=".235" stop-opacity=".578"/><stop offset=".294" stop-opacity=".528"/><stop offset=".353" stop-opacity=".496"/><stop offset=".412" stop-opacity=".469"/><stop offset=".471" stop-opacity=".444"/><stop offset=".529" stop-opacity=".423"/><stop offset=".588" stop-opacity=".406"/><stop offset=".647" stop-opacity=".393"/><stop offset=".706" stop-opacity=".381"/><stop offset=".765" stop-opacity=".37"/><stop offset=".824" stop-opacity=".36"/><stop offset=".882" stop-opacity=".352"/><stop offset=".941" stop-opacity=".346"/><stop offset="1" stop-opacity=".342"/></linearGradient>
<mask id="mp6b" maskUnits="userSpaceOnUse" x="1315.9" y="1251.8" width="329.1" height="129.8"><rect x="1315.9" y="1251.8" width="329.1" height="129.8" fill="url(#ap6b)"/></mask>
<linearGradient id="wp6b" class="w" gradientUnits="userSpaceOnUse" x1="1315.9" y1="0" x2="1645" y2="0"><stop offset="0" stop-opacity=".086"/><stop offset=".018" stop-opacity=".172"/><stop offset=".036" stop-opacity=".268"/><stop offset=".055" stop-opacity=".368"/><stop offset=".073" stop-opacity=".468"/><stop offset=".091" stop-opacity=".566"/><stop offset=".109" stop-opacity=".659"/><stop offset=".127" stop-opacity=".744"/><stop offset=".145" stop-opacity=".819"/><stop offset=".164" stop-opacity=".883"/><stop offset=".182" stop-opacity=".934"/><stop offset=".2" stop-opacity=".971"/><stop offset=".218" stop-opacity=".993"/><stop offset=".236" stop-opacity="1"/><stop offset=".255" stop-opacity=".991"/><stop offset=".273" stop-opacity=".967"/><stop offset=".291" stop-opacity=".927"/><stop offset=".309" stop-opacity=".874"/><stop offset=".327" stop-opacity=".809"/><stop offset=".345" stop-opacity=".732"/><stop offset=".364" stop-opacity=".645"/><stop offset=".382" stop-opacity=".552"/><stop offset=".4" stop-opacity=".453"/><stop offset=".418" stop-opacity=".353"/><stop offset=".436" stop-opacity=".253"/><stop offset=".455" stop-opacity=".159"/><stop offset=".473" stop-opacity=".074"/><stop offset=".491" stop-opacity=".011"/><stop offset=".509" stop-opacity=".013"/><stop offset=".527" stop-opacity=".078"/><stop offset=".545" stop-opacity=".164"/><stop offset=".564" stop-opacity=".259"/><stop offset=".582" stop-opacity=".358"/><stop offset=".6" stop-opacity=".459"/><stop offset=".618" stop-opacity=".557"/><stop offset=".636" stop-opacity=".65"/><stop offset=".655" stop-opacity=".736"/><stop offset=".673" stop-opacity=".812"/><stop offset=".691" stop-opacity=".878"/><stop offset=".709" stop-opacity=".93"/><stop offset=".727" stop-opacity=".968"/><stop offset=".745" stop-opacity=".992"/><stop offset=".764" stop-opacity="1"/><stop offset=".782" stop-opacity=".993"/><stop offset=".8" stop-opacity=".97"/><stop offset=".818" stop-opacity=".932"/><stop offset=".836" stop-opacity=".88"/><stop offset=".855" stop-opacity=".815"/><stop offset=".873" stop-opacity=".739"/><stop offset=".891" stop-opacity=".654"/><stop offset=".909" stop-opacity=".561"/><stop offset=".927" stop-opacity=".463"/><stop offset=".945" stop-opacity=".362"/><stop offset=".964" stop-opacity=".263"/><stop offset=".982" stop-opacity=".167"/><stop offset="1" stop-opacity=".082"/></linearGradient>
<g clip-path="url(#cp6b)">
<rect x="1315.9" y="1251.8" width="329.1" height="129.8" fill="url(#bp6b)"/>
<rect x="1315.9" y="1251.8" width="329.1" height="129.8" fill="url(#wp6b)" mask="url(#mp6b)"/>
</g>
</g>
<clipPath id="kp6"><rect x="1315.9" y="1040.6" width="329.1" height="341.0"/></clipPath>
<path clip-path="url(#kp6)" d="M1326.7 1069.7L1328.4 1069.8L1327 1068.9zM1348.5 1069.6L1350 1070.4L1349.1 1069zM1370.4 1069.5L1371.4 1070.8L1371.1 1069.1zM1392.3 1069.3L1392.7 1070.9L1393.1 1069.3zM1414.3 1069.2L1414 1070.8L1415 1069.4zM1436.3 1069L1435.5 1070.5L1436.9 1069.6zM1458.4 1068.9L1457.1 1069.9L1458.7 1069.7zM1480.5 1068.9L1478.9 1069.3L1480.4 1069.7zM1502.5 1068.9L1500.9 1068.7L1502.2 1069.7zM1524.6 1069L1523.2 1068.1L1524 1069.6zM1546.6 1069.2L1545.7 1067.8L1545.9 1069.4zM1568.6 1069.3L1568.3 1067.7L1567.8 1069.3zM1590.5 1069.5L1590.9 1067.8L1589.8 1069.1zM1612.4 1069.6L1613.3 1068.2L1611.8 1069zM1634.2 1069.7L1635.5 1068.8L1633.9 1068.9zM1326.7 1096.8L1328.7 1097L1327 1096zM1348.5 1096.7L1350.3 1097.7L1349.1 1096.1zM1370.4 1096.6L1371.6 1098.3L1371.1 1096.2zM1392.3 1096.4L1392.8 1098.5L1393.1 1096.4zM1414.3 1096.3L1413.9 1098.4L1415 1096.5zM1436.3 1096.1L1435.2 1097.9L1436.9 1096.7zM1458.4 1096L1456.7 1097.2L1458.7 1096.8zM1480.5 1096L1478.5 1096.4L1480.4 1096.8zM1502.5 1096L1500.6 1095.6L1502.2 1096.8zM1524.6 1096.1L1522.9 1094.9L1524 1096.7zM1546.6 1096.3L1545.5 1094.4L1545.9 1096.5zM1568.6 1096.4L1568.3 1094.3L1567.8 1096.4zM1590.5 1096.6L1591.1 1094.5L1589.8 1096.2zM1612.4 1096.7L1613.6 1095.1L1611.8 1096.1zM1634.2 1096.8L1635.9 1095.8L1633.9 1096zM1326.7 1123.9L1329.6 1124.4L1327 1123.1zM1348.5 1123.8L1351.1 1125.6L1349.1 1123.2zM1370.4 1123.7L1372.2 1126.5L1371.1 1123.3zM1392.3 1123.5L1392.8 1127L1393.1 1123.5zM1414.3 1123.4L1413.4 1126.7L1415 1123.6zM1436.3 1123.2L1434.4 1125.8L1436.9 1123.8zM1458.4 1123.1L1455.8 1124.6L1458.7 1123.9zM1480.5 1123.1L1477.6 1123.5L1480.4 1123.9zM1502.5 1123.1L1499.7 1122.3L1502.2 1123.9zM1524.6 1123.2L1522.2 1121.2L1524 1123.8zM1546.6 1123.4L1545.1 1120.3L1545.9 1123.6zM1568.6 1123.5L1568.4 1120L1567.8 1123.5zM1590.5 1123.7L1591.6 1120.5L1589.8 1123.3zM1612.4 1123.8L1614.4 1121.5L1611.8 1123.2zM1634.2 1123.9L1636.8 1122.6L1633.9 1123.1zM1326.7 1151.1L1331.5 1152.2L1327 1150.1zM1348.4 1151L1352.9 1154.3L1349.2 1150.2zM1370.1 1150.9L1373.3 1156.1L1371.4 1150.3zM1392 1150.6L1392.9 1157L1393.4 1150.6zM1414 1150.4L1412.4 1156.4L1415.3 1150.8zM1436.1 1150.2L1432.7 1154.6L1437 1151zM1458.3 1150.1L1453.9 1152.5L1458.7 1151.1zM1480.5 1150.1L1475.7 1150.6L1480.4 1151.1zM1502.6 1150.1L1497.8 1148.6L1502.2 1151.1zM1524.8 1150.2L1520.5 1146.5L1523.9 1151zM1546.9 1150.4L1544.1 1144.8L1545.6 1150.8zM1568.9 1150.6L1568.5 1144.2L1567.5 1150.6zM1590.8 1150.9L1592.8 1145.1L1589.5 1150.3zM1612.5 1151.1L1616.2 1147L1611.7 1150.1zM1634.2 1151.1L1638.7 1149.1L1633.9 1150.1zM1326.6 1178.6L1334.9 1180.4L1327.2 1176.8zM1348.1 1178.5L1355.8 1184L1349.5 1176.9zM1369.7 1178.2L1375.2 1187.1L1371.8 1177.2zM1391.5 1177.7L1393.1 1188.6L1393.9 1177.7zM1413.5 1177.3L1410.8 1187.5L1415.7 1178.1zM1435.8 1177L1429.9 1184.6L1437.3 1178.4zM1458.1 1176.8L1450.6 1181L1458.9 1178.6zM1480.5 1176.8L1472.3 1177.7L1480.4 1178.6zM1502.8 1176.8L1494.5 1174.3L1502 1178.6zM1525.1 1177L1517.7 1170.7L1523.6 1178.4zM1547.4 1177.3L1542.6 1167.8L1545.2 1178.1zM1569.4 1177.8L1568.7 1166.8L1567 1177.6zM1591.2 1178.2L1594.7 1168.3L1589.1 1177.2zM1612.8 1178.5L1619.1 1171.5L1611.4 1176.9zM1634.3 1178.6L1642.1 1175.1L1633.7 1176.8zM1326.6 1205.2L1330.1 1206.9L1327.1 1204.4zM1348.3 1205.1L1351.3 1209.1L1349.3 1204.5zM1370.1 1205L1372.2 1210.6L1371.4 1204.6zM1392 1204.8L1392.8 1211.2L1393.4 1204.8zM1414 1204.7L1413.4 1210.8L1415.3 1204.9zM1436.1 1204.5L1434.2 1209.4L1437.1 1205.1zM1458.2 1204.5L1455.4 1207.3L1458.8 1205.1zM1480.5 1204.4L1477.1 1204.8L1480.4 1205.2zM1502.7 1204.5L1499.3 1202.2L1502.1 1205.1zM1524.8 1204.5L1522 1200.1L1523.8 1205.1zM1546.9 1204.7L1545.1 1198.8L1545.6 1204.9zM1568.9 1204.8L1568.4 1198.4L1567.5 1204.8zM1590.8 1205L1591.6 1199L1589.5 1204.6zM1612.6 1205.1L1614.6 1200.6L1611.6 1204.5zM1634.3 1205.2L1637.2 1202.8L1633.8 1204.4zM1326.6 1231.5L1323.7 1234L1327.1 1232.3zM1348.3 1231.6L1346.3 1236.2L1349.3 1232.2zM1370.1 1231.7L1369.3 1237.8L1371.4 1232.1zM1392 1231.9L1392.6 1238.4L1393.4 1231.9zM1414 1232L1415.8 1237.9L1415.3 1231.8zM1436.1 1232.2L1438.9 1236.5L1437.1 1231.6zM1458.2 1232.2L1461.6 1234.4L1458.8 1231.6zM1480.5 1232.3L1483.8 1231.9L1480.4 1231.5zM1502.7 1232.2L1505.5 1229.3L1502.1 1231.6zM1524.8 1232.2L1526.7 1227.2L1523.8 1231.6zM1546.9 1232L1547.4 1225.8L1545.6 1231.8zM1568.9 1231.9L1568.1 1225.4L1567.5 1231.9zM1590.8 1231.7L1588.7 1226.1L1589.5 1232.1zM1612.6 1231.6L1609.6 1227.6L1611.6 1232.2zM1634.3 1231.5L1630.8 1229.9L1633.8 1232.3zM1326.1 1258.5L1322.3 1266.3L1327.7 1259.5zM1347.3 1258.4L1343.3 1272.8L1350.3 1259.6zM1368.6 1258.6L1366.9 1278.1L1372.9 1259.4zM1390.4 1259L1392.4 1280L1395 1259zM1412.5 1259.4L1417.9 1278.4L1416.8 1258.6zM1435 1259.6L1441.7 1273.2L1438.1 1258.4zM1457.7 1259.5L1463 1266.7L1459.4 1258.5zM1480.8 1259.3L1483 1256L1480.1 1258.7zM1503.2 1259.5L1506.9 1251.2L1501.5 1258.5zM1525.9 1259.6L1529.4 1244.7L1522.8 1258.4zM1548.4 1259.3L1549.4 1239.6L1544.1 1258.7zM1570.5 1259L1567.8 1238L1565.9 1259zM1592.2 1258.6L1586.2 1240L1588.1 1259.4zM1613.6 1258.4L1606.6 1245.3L1610.6 1259.6zM1634.8 1258.5L1629.5 1251.8L1633.2 1259.5zM1326.4 1285.8L1323.9 1290.8L1327.4 1286.4zM1347.8 1285.7L1345 1295.7L1349.9 1286.5zM1369.3 1285.8L1368.1 1299.6L1372.2 1286.4zM1391 1286.1L1392.5 1301.2L1394.4 1286.1zM1413.1 1286.4L1416.9 1299.8L1416.1 1285.8zM1435.5 1286.5L1440.2 1296L1437.7 1285.7zM1458 1286.4L1461.4 1291.1L1459.1 1285.8zM1480.8 1286.4L1481.7 1284.6L1480.1 1285.8zM1503 1286.4L1505.3 1281L1501.8 1285.8zM1525.4 1286.5L1527.9 1276.1L1523.2 1285.7zM1547.8 1286.3L1548.5 1272.3L1544.8 1285.9zM1569.9 1286.1L1567.9 1271L1566.5 1286.1zM1591.6 1285.8L1587.4 1272.6L1588.7 1286.4zM1613.1 1285.7L1608.3 1276.6L1611 1286.5zM1634.5 1285.8L1631.1 1281.5L1633.5 1286.4zM1326.5 1312.9L1324.5 1317L1327.3 1313.5zM1347.9 1312.9L1345.7 1321L1349.7 1313.5zM1369.5 1313L1368.5 1324.3L1372 1313.4zM1391.3 1313.2L1392.5 1325.7L1394.1 1313.2zM1413.4 1313.4L1416.5 1324.5L1415.9 1313zM1435.7 1313.5L1439.5 1321.3L1437.5 1312.9zM1458.1 1313.5L1460.9 1317.2L1459 1312.9zM1480.8 1313.5L1481.4 1312.1L1480.1 1312.9zM1502.8 1313.5L1504.7 1309.1L1501.9 1312.9zM1525.2 1313.5L1527.2 1305L1523.4 1312.9zM1547.5 1313.4L1548.1 1301.9L1545 1313zM1569.6 1313.2L1568 1300.7L1566.8 1313.2zM1591.4 1312.9L1587.9 1302.1L1588.9 1313.5zM1612.9 1312.9L1609 1305.4L1611.2 1313.5zM1634.4 1312.9L1631.7 1309.5L1633.6 1313.5zM1326.5 1340.1L1324.7 1343.8L1327.3 1340.5zM1348 1340L1346 1347.4L1349.6 1340.6zM1369.7 1340.1L1368.8 1350.3L1371.8 1340.5zM1391.5 1340.3L1392.5 1351.4L1393.9 1340.3zM1413.5 1340.5L1416.3 1350.4L1415.7 1340.1zM1435.8 1340.6L1439.2 1347.6L1437.4 1340zM1458.1 1340.5L1460.7 1344L1458.9 1340.1zM1480.8 1340.6L1481.4 1339.2L1480.1 1340zM1502.8 1340.5L1504.5 1336.6L1502 1340.1zM1525.1 1340.6L1526.9 1333L1523.5 1340zM1547.4 1340.5L1547.9 1330.2L1545.2 1340.1zM1569.4 1340.3L1568 1329.2L1567 1340.3zM1591.2 1340.1L1588.1 1330.4L1589.1 1340.5zM1612.9 1340L1609.3 1333.3L1611.3 1340.6zM1634.4 1340.1L1631.9 1336.9L1633.7 1340.5zM1326.5 1367.2L1324.8 1370.7L1327.2 1367.6zM1348.1 1367.1L1346.2 1374L1349.5 1367.7zM1369.7 1367.2L1368.9 1376.7L1371.8 1367.6zM1391.5 1367.4L1392.5 1377.8L1393.8 1367.4zM1413.6 1367.6L1416.2 1376.8L1415.7 1367.2zM1435.8 1367.7L1439 1374.2L1437.3 1367.1zM1458.1 1367.6L1460.6 1371L1458.9 1367.2zM1480.8 1367.7L1481.4 1366.2L1480.1 1367.1zM1502.8 1367.6L1504.5 1363.8L1502 1367.2zM1525.1 1367.7L1526.8 1360.5L1523.6 1367.1zM1547.3 1367.6L1547.8 1357.9L1545.2 1367.2zM1569.4 1367.4L1568 1357L1567.1 1367.4zM1591.2 1367.2L1588.3 1358.1L1589.1 1367.6zM1612.8 1367.1L1609.4 1360.8L1611.4 1367.7zM1634.4 1367.2L1631.9 1364.1L1633.7 1367.6z" fill="#000"/>
<path d="M1316.2 1040.6V1381.6M1644.7 1040.6V1381.6" fill="none" stroke="#000" stroke-width="1.3"/>
<path d="M1315.9 1185H1645M1315.9 1251.8H1645" stroke="#000" stroke-width="1.3" fill="none"/>
<path d="M575.2 1331V1390.3H632M565 1349.7L575.2 1330L585.4 1349.7M614 1380.3L633 1390.3L614 1400.3" fill="none" stroke="#000" stroke-width="2.4"/>
<text x="549.0" y="1381.6" font-size="41" text-anchor="start" >z</text>
<text x="588.5" y="1420.7" font-size="41" text-anchor="start" >x</text>
<linearGradient id="cbar"><stop offset="0" stop-color="#0000ff"/><stop offset=".5" stop-color="#fff"/><stop offset="1" stop-color="#ff0000"/></linearGradient>
<rect x="844.5" y="1412.3" width="537" height="26.6" fill="url(#cbar)" stroke="#000" stroke-width="1.2"/>
<text x="737.0" y="1438.7" font-size="36.5" text-anchor="start" >|E|<tspan font-size="28">min</tspan></text>
<text x="1405.0" y="1438.7" font-size="36.5" text-anchor="start" >|E|<tspan font-size="28">max</tspan></text>
</svg></body></html>
